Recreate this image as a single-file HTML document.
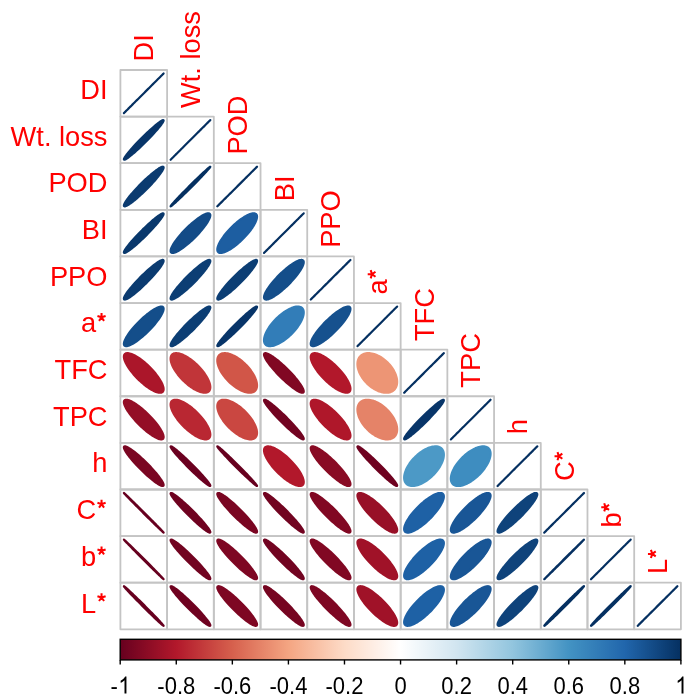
<!DOCTYPE html>
<html><head><meta charset="utf-8"><style>html,body{margin:0;padding:0;background:#fff;width:685px;height:700px;overflow:hidden;font-family:"Liberation Sans",sans-serif;}svg{display:block;filter:blur(0.55px);}</style></head><body>
<svg width="685" height="700" viewBox="0 0 685 700">
<rect width="685" height="700" fill="#FFFFFF"/>
<path d="M163.61,73.50 L163.56,73.54 L163.44,73.66 L163.24,73.86 L162.96,74.14 L162.59,74.50 L162.15,74.94 L161.64,75.46 L161.05,76.04 L160.39,76.70 L159.66,77.43 L158.87,78.22 L158.01,79.08 L157.10,79.99 L156.13,80.95 L155.11,81.97 L154.04,83.04 L152.94,84.14 L151.79,85.29 L150.61,86.46 L149.40,87.67 L148.17,88.90 L146.92,90.14 L145.66,91.40 L144.39,92.67 L143.12,93.94 L141.85,95.21 L140.59,96.47 L139.34,97.71 L138.11,98.94 L136.90,100.15 L135.72,101.32 L134.57,102.47 L133.46,103.57 L132.40,104.64 L131.38,105.66 L130.41,106.62 L129.49,107.53 L128.64,108.39 L127.85,109.18 L127.12,109.91 L126.46,110.57 L125.87,111.15 L125.35,111.67 L124.91,112.11 L124.55,112.47 L124.27,112.75 L124.07,112.95 L123.94,113.07 L123.90,113.11 L123.94,113.07 L124.07,112.95 L124.27,112.75 L124.55,112.47 L124.91,112.11 L125.35,111.67 L125.87,111.15 L126.46,110.57 L127.12,109.91 L127.85,109.18 L128.64,108.39 L129.49,107.53 L130.41,106.62 L131.38,105.66 L132.40,104.64 L133.46,103.57 L134.57,102.47 L135.72,101.32 L136.90,100.15 L138.11,98.94 L139.34,97.71 L140.59,96.47 L141.85,95.21 L143.12,93.94 L144.39,92.67 L145.66,91.40 L146.92,90.14 L148.17,88.90 L149.40,87.67 L150.61,86.46 L151.79,85.29 L152.94,84.14 L154.04,83.04 L155.11,81.97 L156.13,80.95 L157.10,79.99 L158.01,79.08 L158.87,78.22 L159.66,77.43 L160.39,76.70 L161.05,76.04 L161.64,75.46 L162.15,74.94 L162.59,74.50 L162.96,74.14 L163.24,73.86 L163.44,73.66 L163.56,73.54 L163.61,73.50 Z" fill="#053061" stroke="#053061" stroke-width="2.2" stroke-linejoin="round"/>
<path d="M163.51,120.21 L163.34,120.12 L163.09,120.11 L162.76,120.19 L162.36,120.35 L161.87,120.58 L161.32,120.90 L160.69,121.30 L159.99,121.77 L159.22,122.32 L158.40,122.93 L157.51,123.62 L156.56,124.38 L155.56,125.20 L154.52,126.08 L153.43,127.01 L152.30,128.00 L151.13,129.04 L149.93,130.13 L148.71,131.25 L147.47,132.41 L146.21,133.60 L144.95,134.81 L143.67,136.05 L142.40,137.30 L141.14,138.57 L139.88,139.84 L138.64,141.11 L137.42,142.37 L136.23,143.62 L135.07,144.86 L133.94,146.08 L132.86,147.28 L131.82,148.44 L130.83,149.57 L129.89,150.66 L129.01,151.70 L128.18,152.70 L127.43,153.64 L126.74,154.53 L126.12,155.35 L125.57,156.12 L125.10,156.81 L124.70,157.44 L124.38,158.00 L124.15,158.48 L123.99,158.88 L123.91,159.21 L123.92,159.46 L124.00,159.62 L124.17,159.71 L124.42,159.72 L124.75,159.64 L125.15,159.48 L125.63,159.25 L126.19,158.93 L126.82,158.53 L127.52,158.06 L128.28,157.51 L129.11,156.90 L130.00,156.21 L130.95,155.45 L131.94,154.63 L132.99,153.75 L134.08,152.82 L135.21,151.83 L136.38,150.79 L137.57,149.70 L138.80,148.58 L140.04,147.42 L141.29,146.23 L142.56,145.02 L143.83,143.78 L145.11,142.53 L146.37,141.26 L147.63,139.99 L148.87,138.72 L150.08,137.46 L151.28,136.21 L152.44,134.97 L153.56,133.75 L154.65,132.55 L155.69,131.39 L156.68,130.26 L157.62,129.17 L158.50,128.13 L159.32,127.13 L160.08,126.19 L160.77,125.30 L161.39,124.48 L161.94,123.71 L162.41,123.02 L162.81,122.39 L163.12,121.83 L163.36,121.35 L163.52,120.95 L163.60,120.62 L163.59,120.37 L163.51,120.21 Z" fill="#083569" stroke="#083569" stroke-width="2.2" stroke-linejoin="round"/>
<path d="M210.31,120.11 L210.27,120.15 L210.15,120.27 L209.95,120.47 L209.66,120.75 L209.30,121.11 L208.86,121.55 L208.35,122.07 L207.76,122.65 L207.10,123.31 L206.37,124.04 L205.58,124.83 L204.72,125.69 L203.81,126.60 L202.84,127.56 L201.82,128.58 L200.75,129.65 L199.64,130.75 L198.50,131.90 L197.32,133.07 L196.11,134.28 L194.88,135.51 L193.63,136.75 L192.37,138.01 L191.10,139.28 L189.83,140.55 L188.56,141.82 L187.29,143.08 L186.05,144.32 L184.81,145.55 L183.61,146.76 L182.43,147.93 L181.28,149.08 L180.17,150.18 L179.11,151.25 L178.09,152.27 L177.12,153.23 L176.20,154.14 L175.35,155.00 L174.55,155.79 L173.83,156.52 L173.17,157.18 L172.58,157.76 L172.06,158.28 L171.62,158.72 L171.26,159.08 L170.98,159.36 L170.77,159.56 L170.65,159.68 L170.61,159.72 L170.65,159.68 L170.77,159.56 L170.98,159.36 L171.26,159.08 L171.62,158.72 L172.06,158.28 L172.58,157.76 L173.17,157.18 L173.83,156.52 L174.55,155.79 L175.35,155.00 L176.20,154.14 L177.12,153.23 L178.09,152.27 L179.11,151.25 L180.17,150.18 L181.28,149.08 L182.43,147.93 L183.61,146.76 L184.81,145.55 L186.05,144.32 L187.29,143.08 L188.56,141.82 L189.83,140.55 L191.10,139.28 L192.37,138.01 L193.63,136.75 L194.88,135.51 L196.11,134.28 L197.32,133.07 L198.50,131.90 L199.64,130.75 L200.75,129.65 L201.82,128.58 L202.84,127.56 L203.81,126.60 L204.72,125.69 L205.58,124.83 L206.37,124.04 L207.10,123.31 L207.76,122.65 L208.35,122.07 L208.86,121.55 L209.30,121.11 L209.66,120.75 L209.95,120.47 L210.15,120.27 L210.27,120.15 L210.31,120.11 Z" fill="#053061" stroke="#053061" stroke-width="2.2" stroke-linejoin="round"/>
<path d="M163.41,166.91 L163.19,166.78 L162.89,166.72 L162.51,166.74 L162.05,166.85 L161.52,167.03 L160.92,167.30 L160.24,167.64 L159.50,168.06 L158.69,168.56 L157.82,169.13 L156.90,169.78 L155.92,170.49 L154.89,171.27 L153.81,172.11 L152.69,173.01 L151.54,173.96 L150.35,174.97 L149.14,176.03 L147.91,177.12 L146.65,178.26 L145.39,179.43 L144.12,180.63 L142.85,181.85 L141.58,183.10 L140.32,184.35 L139.07,185.62 L137.85,186.89 L136.64,188.16 L135.47,189.42 L134.33,190.67 L133.23,191.90 L132.18,193.11 L131.17,194.30 L130.21,195.45 L129.31,196.56 L128.46,197.64 L127.68,198.66 L126.97,199.64 L126.33,200.57 L125.75,201.43 L125.25,202.24 L124.83,202.98 L124.49,203.65 L124.22,204.25 L124.03,204.78 L123.93,205.24 L123.90,205.62 L123.96,205.92 L124.10,206.14 L124.32,206.27 L124.62,206.33 L125.00,206.31 L125.46,206.20 L125.99,206.02 L126.59,205.75 L127.27,205.41 L128.01,204.99 L128.82,204.49 L129.68,203.92 L130.61,203.27 L131.59,202.56 L132.62,201.78 L133.70,200.94 L134.81,200.04 L135.97,199.09 L137.15,198.08 L138.37,197.02 L139.60,195.93 L140.85,194.79 L142.12,193.62 L143.39,192.42 L144.66,191.20 L145.93,189.95 L147.19,188.70 L148.44,187.43 L149.66,186.16 L150.86,184.89 L152.04,183.63 L153.18,182.38 L154.28,181.15 L155.33,179.94 L156.34,178.75 L157.30,177.60 L158.20,176.49 L159.04,175.41 L159.82,174.39 L160.54,173.41 L161.18,172.48 L161.76,171.62 L162.25,170.81 L162.68,170.07 L163.02,169.40 L163.29,168.80 L163.48,168.27 L163.58,167.81 L163.60,167.43 L163.55,167.13 L163.41,166.91 Z" fill="#0B3B70" stroke="#0B3B70" stroke-width="2.2" stroke-linejoin="round"/>
<path d="M210.30,166.73 L210.21,166.72 L210.04,166.80 L209.79,166.95 L209.45,167.18 L209.05,167.50 L208.56,167.89 L208.00,168.36 L207.37,168.90 L206.67,169.52 L205.90,170.20 L205.07,170.96 L204.18,171.77 L203.23,172.65 L202.23,173.58 L201.18,174.57 L200.09,175.61 L198.96,176.69 L197.79,177.81 L196.59,178.97 L195.37,180.16 L194.13,181.37 L192.87,182.61 L191.60,183.86 L190.33,185.12 L189.06,186.39 L187.79,187.66 L186.54,188.93 L185.30,190.18 L184.08,191.42 L182.89,192.64 L181.73,193.84 L180.61,195.00 L179.52,196.13 L178.48,197.22 L177.49,198.27 L176.56,199.26 L175.68,200.21 L174.86,201.10 L174.11,201.93 L173.42,202.70 L172.80,203.40 L172.26,204.03 L171.79,204.58 L171.39,205.07 L171.08,205.48 L170.85,205.81 L170.69,206.06 L170.62,206.23 L170.63,206.32 L170.72,206.33 L170.89,206.25 L171.14,206.10 L171.47,205.87 L171.88,205.55 L172.36,205.16 L172.92,204.69 L173.56,204.15 L174.26,203.53 L175.03,202.85 L175.86,202.09 L176.75,201.28 L177.70,200.40 L178.70,199.47 L179.74,198.48 L180.84,197.44 L181.97,196.36 L183.14,195.24 L184.33,194.08 L185.56,192.89 L186.80,191.68 L188.06,190.44 L189.32,189.19 L190.60,187.93 L191.87,186.66 L193.13,185.39 L194.39,184.12 L195.63,182.87 L196.84,181.63 L198.03,180.41 L199.19,179.21 L200.32,178.05 L201.40,176.92 L202.44,175.83 L203.43,174.78 L204.37,173.79 L205.25,172.84 L206.07,171.95 L206.82,171.12 L207.51,170.35 L208.12,169.65 L208.67,169.02 L209.14,168.47 L209.53,167.98 L209.84,167.57 L210.08,167.24 L210.23,166.99 L210.31,166.82 L210.30,166.73 Z" fill="#053061" stroke="#053061" stroke-width="2.2" stroke-linejoin="round"/>
<path d="M257.02,166.72 L256.98,166.76 L256.86,166.88 L256.66,167.08 L256.37,167.36 L256.01,167.72 L255.57,168.16 L255.06,168.68 L254.47,169.26 L253.81,169.92 L253.08,170.65 L252.29,171.44 L251.43,172.30 L250.52,173.21 L249.55,174.17 L248.53,175.19 L247.46,176.26 L246.35,177.36 L245.21,178.51 L244.03,179.68 L242.82,180.89 L241.59,182.12 L240.34,183.36 L239.08,184.62 L237.81,185.89 L236.53,187.16 L235.26,188.43 L234.00,189.69 L232.75,190.93 L231.52,192.16 L230.31,193.37 L229.14,194.54 L227.99,195.69 L226.88,196.79 L225.81,197.86 L224.79,198.88 L223.82,199.84 L222.91,200.75 L222.06,201.61 L221.26,202.40 L220.53,203.13 L219.87,203.79 L219.29,204.37 L218.77,204.89 L218.33,205.33 L217.97,205.69 L217.69,205.97 L217.48,206.17 L217.36,206.29 L217.32,206.33 L217.36,206.29 L217.48,206.17 L217.69,205.97 L217.97,205.69 L218.33,205.33 L218.77,204.89 L219.29,204.37 L219.87,203.79 L220.53,203.13 L221.26,202.40 L222.06,201.61 L222.91,200.75 L223.82,199.84 L224.79,198.88 L225.81,197.86 L226.88,196.79 L227.99,195.69 L229.14,194.54 L230.31,193.37 L231.52,192.16 L232.75,190.93 L234.00,189.69 L235.26,188.43 L236.53,187.16 L237.81,185.89 L239.08,184.62 L240.34,183.36 L241.59,182.12 L242.82,180.89 L244.03,179.68 L245.21,178.51 L246.35,177.36 L247.46,176.26 L248.53,175.19 L249.55,174.17 L250.52,173.21 L251.43,172.30 L252.29,171.44 L253.08,170.65 L253.81,169.92 L254.47,169.26 L255.06,168.68 L255.57,168.16 L256.01,167.72 L256.37,167.36 L256.66,167.08 L256.86,166.88 L256.98,166.76 L257.02,166.72 Z" fill="#053061" stroke="#053061" stroke-width="2.2" stroke-linejoin="round"/>
<path d="M163.47,213.46 L163.27,213.36 L163.00,213.33 L162.65,213.38 L162.23,213.51 L161.72,213.73 L161.14,214.02 L160.49,214.40 L159.78,214.85 L158.99,215.37 L158.15,215.97 L157.24,216.64 L156.28,217.37 L155.27,218.18 L154.21,219.04 L153.11,219.96 L151.96,220.93 L150.79,221.96 L149.59,223.03 L148.36,224.14 L147.11,225.29 L145.85,226.47 L144.58,227.68 L143.31,228.91 L142.04,230.16 L140.77,231.42 L139.52,232.69 L138.29,233.96 L137.08,235.23 L135.89,236.48 L134.74,237.73 L133.63,238.95 L132.55,240.16 L131.53,241.33 L130.55,242.47 L129.63,243.57 L128.76,244.62 L127.96,245.63 L127.22,246.59 L126.55,247.50 L125.95,248.34 L125.43,249.12 L124.98,249.84 L124.60,250.49 L124.31,251.06 L124.09,251.57 L123.96,251.99 L123.90,252.34 L123.93,252.61 L124.04,252.81 L124.23,252.91 L124.50,252.94 L124.86,252.89 L125.28,252.76 L125.79,252.54 L126.36,252.25 L127.01,251.87 L127.73,251.42 L128.52,250.90 L129.36,250.30 L130.27,249.63 L131.23,248.90 L132.24,248.09 L133.30,247.23 L134.40,246.31 L135.54,245.34 L136.72,244.31 L137.92,243.24 L139.15,242.13 L140.40,240.98 L141.66,239.80 L142.93,238.59 L144.20,237.36 L145.47,236.11 L146.73,234.85 L147.98,233.58 L149.22,232.31 L150.43,231.04 L151.61,229.79 L152.77,228.54 L153.88,227.32 L154.95,226.11 L155.98,224.94 L156.96,223.80 L157.88,222.70 L158.75,221.65 L159.55,220.64 L160.29,219.68 L160.96,218.77 L161.56,217.93 L162.08,217.15 L162.53,216.43 L162.91,215.78 L163.20,215.21 L163.42,214.70 L163.55,214.28 L163.60,213.93 L163.58,213.66 L163.47,213.46 Z" fill="#09386C" stroke="#09386C" stroke-width="2.2" stroke-linejoin="round"/>
<path d="M209.81,213.83 L209.49,213.58 L209.08,213.42 L208.61,213.34 L208.05,213.34 L207.43,213.42 L206.73,213.58 L205.97,213.82 L205.14,214.14 L204.26,214.54 L203.31,215.01 L202.32,215.56 L201.27,216.18 L200.18,216.88 L199.06,217.63 L197.89,218.46 L196.70,219.34 L195.48,220.28 L194.24,221.27 L192.98,222.31 L191.71,223.40 L190.44,224.52 L189.17,225.68 L187.90,226.87 L186.65,228.09 L185.41,229.33 L184.19,230.58 L182.99,231.84 L181.83,233.11 L180.70,234.38 L179.61,235.65 L178.57,236.90 L177.58,238.14 L176.64,239.36 L175.75,240.55 L174.93,241.71 L174.17,242.84 L173.48,243.92 L172.85,244.97 L172.30,245.96 L171.83,246.90 L171.43,247.78 L171.10,248.61 L170.86,249.37 L170.70,250.06 L170.62,250.69 L170.62,251.24 L170.71,251.72 L170.87,252.12 L171.11,252.44 L171.44,252.69 L171.84,252.85 L172.32,252.93 L172.87,252.93 L173.50,252.85 L174.19,252.69 L174.96,252.45 L175.78,252.13 L176.67,251.73 L177.61,251.26 L178.61,250.71 L179.65,250.09 L180.74,249.39 L181.87,248.64 L183.03,247.81 L184.23,246.93 L185.45,245.99 L186.69,245.00 L187.95,243.96 L189.21,242.87 L190.48,241.75 L191.76,240.59 L193.02,239.40 L194.28,238.18 L195.52,236.94 L196.74,235.69 L197.93,234.43 L199.10,233.16 L200.22,231.89 L201.31,230.62 L202.35,229.37 L203.35,228.13 L204.29,226.91 L205.17,225.72 L206.00,224.56 L206.76,223.43 L207.45,222.35 L208.07,221.30 L208.62,220.31 L209.10,219.37 L209.50,218.49 L209.82,217.66 L210.06,216.90 L210.22,216.21 L210.30,215.58 L210.30,215.03 L210.22,214.55 L210.06,214.15 L209.81,213.83 Z" fill="#134B87" stroke="#134B87" stroke-width="2.2" stroke-linejoin="round"/>
<path d="M256.16,214.19 L255.75,213.86 L255.26,213.60 L254.70,213.43 L254.07,213.34 L253.37,213.33 L252.60,213.40 L251.77,213.56 L250.88,213.79 L249.93,214.10 L248.93,214.49 L247.88,214.96 L246.79,215.51 L245.65,216.12 L244.49,216.81 L243.29,217.56 L242.07,218.37 L240.82,219.25 L239.56,220.18 L238.30,221.17 L237.03,222.21 L235.75,223.29 L234.49,224.41 L233.23,225.57 L231.99,226.76 L230.78,227.97 L229.59,229.21 L228.43,230.46 L227.30,231.72 L226.22,232.99 L225.18,234.26 L224.19,235.52 L223.26,236.78 L222.38,238.02 L221.56,239.24 L220.81,240.43 L220.12,241.60 L219.50,242.73 L218.96,243.82 L218.49,244.87 L218.10,245.87 L217.79,246.81 L217.55,247.70 L217.40,248.53 L217.33,249.30 L217.34,250.00 L217.43,250.63 L217.60,251.19 L217.85,251.67 L218.18,252.08 L218.59,252.41 L219.08,252.67 L219.64,252.84 L220.27,252.93 L220.97,252.94 L221.74,252.87 L222.57,252.71 L223.47,252.48 L224.41,252.17 L225.41,251.78 L226.46,251.31 L227.56,250.76 L228.69,250.15 L229.86,249.46 L231.05,248.71 L232.28,247.90 L233.52,247.02 L234.78,246.09 L236.04,245.10 L237.32,244.06 L238.59,242.98 L239.85,241.86 L241.11,240.70 L242.35,239.51 L243.56,238.30 L244.75,237.06 L245.91,235.81 L247.04,234.55 L248.12,233.28 L249.16,232.01 L250.15,230.75 L251.09,229.49 L251.96,228.25 L252.78,227.03 L253.53,225.84 L254.22,224.67 L254.84,223.54 L255.38,222.45 L255.85,221.40 L256.24,220.40 L256.56,219.46 L256.79,218.57 L256.94,217.74 L257.02,216.97 L257.01,216.27 L256.92,215.64 L256.74,215.08 L256.49,214.60 L256.16,214.19 Z" fill="#1D5EA1" stroke="#1D5EA1" stroke-width="2.2" stroke-linejoin="round"/>
<path d="M303.73,213.33 L303.69,213.37 L303.57,213.49 L303.36,213.69 L303.08,213.97 L302.72,214.33 L302.28,214.77 L301.76,215.29 L301.18,215.87 L300.52,216.53 L299.79,217.26 L298.99,218.05 L298.14,218.91 L297.23,219.82 L296.26,220.78 L295.24,221.80 L294.17,222.87 L293.06,223.97 L291.91,225.12 L290.74,226.29 L289.53,227.50 L288.30,228.73 L287.05,229.97 L285.79,231.23 L284.52,232.50 L283.24,233.77 L281.97,235.04 L280.71,236.30 L279.46,237.54 L278.23,238.77 L277.02,239.98 L275.84,241.15 L274.70,242.30 L273.59,243.40 L272.52,244.47 L271.50,245.49 L270.53,246.45 L269.62,247.36 L268.76,248.22 L267.97,249.01 L267.24,249.74 L266.58,250.40 L265.99,250.98 L265.48,251.50 L265.04,251.94 L264.68,252.30 L264.39,252.58 L264.19,252.78 L264.07,252.90 L264.03,252.94 L264.07,252.90 L264.19,252.78 L264.39,252.58 L264.68,252.30 L265.04,251.94 L265.48,251.50 L265.99,250.98 L266.58,250.40 L267.24,249.74 L267.97,249.01 L268.76,248.22 L269.62,247.36 L270.53,246.45 L271.50,245.49 L272.52,244.47 L273.59,243.40 L274.70,242.30 L275.84,241.15 L277.02,239.98 L278.23,238.77 L279.46,237.54 L280.71,236.30 L281.97,235.04 L283.24,233.77 L284.52,232.50 L285.79,231.23 L287.05,229.97 L288.30,228.73 L289.53,227.50 L290.74,226.29 L291.91,225.12 L293.06,223.97 L294.17,222.87 L295.24,221.80 L296.26,220.78 L297.23,219.82 L298.14,218.91 L298.99,218.05 L299.79,217.26 L300.52,216.53 L301.18,215.87 L301.76,215.29 L302.28,214.77 L302.72,214.33 L303.08,213.97 L303.36,213.69 L303.57,213.49 L303.69,213.37 L303.73,213.33 Z" fill="#053061" stroke="#053061" stroke-width="2.2" stroke-linejoin="round"/>
<path d="M163.38,260.16 L163.15,260.01 L162.84,259.94 L162.45,259.95 L161.98,260.05 L161.44,260.22 L160.83,260.48 L160.15,260.81 L159.39,261.22 L158.58,261.71 L157.70,262.27 L156.77,262.91 L155.78,263.61 L154.74,264.38 L153.66,265.21 L152.54,266.10 L151.38,267.05 L150.19,268.05 L148.98,269.10 L147.74,270.19 L146.48,271.32 L145.22,272.49 L143.95,273.69 L142.67,274.91 L141.41,276.15 L140.15,277.40 L138.91,278.67 L137.68,279.94 L136.48,281.21 L135.32,282.47 L134.18,283.72 L133.09,284.96 L132.04,286.17 L131.03,287.36 L130.08,288.51 L129.19,289.63 L128.35,290.71 L127.58,291.75 L126.88,292.73 L126.24,293.66 L125.68,294.54 L125.19,295.35 L124.78,296.10 L124.44,296.78 L124.19,297.40 L124.01,297.94 L123.92,298.40 L123.91,298.79 L123.98,299.10 L124.13,299.33 L124.36,299.48 L124.67,299.55 L125.06,299.54 L125.52,299.44 L126.07,299.27 L126.68,299.01 L127.36,298.68 L128.11,298.27 L128.93,297.78 L129.81,297.22 L130.74,296.58 L131.73,295.88 L132.76,295.11 L133.85,294.28 L134.97,293.39 L136.13,292.44 L137.32,291.44 L138.53,290.39 L139.77,289.30 L141.02,288.17 L142.29,287.00 L143.56,285.80 L144.83,284.58 L146.10,283.34 L147.36,282.09 L148.60,280.82 L149.83,279.55 L151.02,278.28 L152.19,277.02 L153.33,275.77 L154.42,274.53 L155.47,273.32 L156.47,272.13 L157.42,270.98 L158.32,269.86 L159.15,268.78 L159.92,267.74 L160.63,266.76 L161.26,265.83 L161.83,264.95 L162.32,264.14 L162.73,263.39 L163.06,262.71 L163.32,262.09 L163.49,261.55 L163.59,261.09 L163.60,260.70 L163.53,260.39 L163.38,260.16 Z" fill="#0B3B70" stroke="#0B3B70" stroke-width="2.2" stroke-linejoin="round"/>
<path d="M210.04,260.21 L209.79,260.04 L209.46,259.95 L209.05,259.94 L208.56,260.02 L208.00,260.17 L207.37,260.40 L206.67,260.72 L205.90,261.11 L205.07,261.58 L204.18,262.12 L203.23,262.74 L202.23,263.43 L201.19,264.18 L200.09,265.00 L198.96,265.87 L197.80,266.81 L196.60,267.80 L195.38,268.83 L194.13,269.92 L192.88,271.04 L191.61,272.20 L190.34,273.38 L189.07,274.60 L187.80,275.84 L186.54,277.09 L185.31,278.35 L184.09,279.62 L182.90,280.89 L181.74,282.15 L180.61,283.41 L179.53,284.65 L178.49,285.87 L177.50,287.06 L176.56,288.23 L175.68,289.36 L174.86,290.45 L174.11,291.49 L173.42,292.49 L172.80,293.44 L172.26,294.32 L171.79,295.15 L171.40,295.92 L171.08,296.62 L170.85,297.25 L170.69,297.81 L170.62,298.29 L170.63,298.70 L170.72,299.03 L170.89,299.28 L171.14,299.45 L171.47,299.54 L171.88,299.55 L172.36,299.47 L172.92,299.32 L173.55,299.09 L174.25,298.77 L175.02,298.38 L175.85,297.91 L176.74,297.37 L177.69,296.75 L178.69,296.06 L179.74,295.31 L180.83,294.49 L181.96,293.62 L183.13,292.68 L184.33,291.69 L185.55,290.66 L186.79,289.57 L188.05,288.45 L189.32,287.29 L190.59,286.11 L191.86,284.89 L193.13,283.65 L194.38,282.40 L195.62,281.14 L196.84,279.87 L198.03,278.60 L199.19,277.34 L200.31,276.08 L201.40,274.84 L202.44,273.62 L203.43,272.43 L204.36,271.26 L205.24,270.13 L206.06,269.04 L206.82,268.00 L207.50,267.00 L208.12,266.05 L208.66,265.17 L209.14,264.34 L209.53,263.57 L209.84,262.87 L210.08,262.24 L210.23,261.68 L210.31,261.20 L210.30,260.79 L210.21,260.46 L210.04,260.21 Z" fill="#0C3E74" stroke="#0C3E74" stroke-width="2.2" stroke-linejoin="round"/>
<path d="M256.77,260.18 L256.53,260.02 L256.21,259.94 L255.81,259.95 L255.33,260.03 L254.78,260.19 L254.16,260.44 L253.47,260.76 L252.71,261.16 L251.89,261.64 L251.00,262.20 L250.06,262.82 L249.07,263.52 L248.03,264.28 L246.94,265.10 L245.81,265.99 L244.65,266.93 L243.45,267.92 L242.24,268.96 L240.99,270.05 L239.74,271.18 L238.47,272.34 L237.20,273.53 L235.93,274.75 L234.66,275.99 L233.41,277.24 L232.16,278.51 L230.94,279.77 L229.75,281.04 L228.58,282.31 L227.46,283.56 L226.37,284.80 L225.32,286.02 L224.33,287.21 L223.38,288.37 L222.50,289.49 L221.67,290.58 L220.91,291.62 L220.21,292.61 L219.58,293.55 L219.03,294.43 L218.55,295.25 L218.15,296.01 L217.82,296.70 L217.58,297.32 L217.41,297.87 L217.33,298.35 L217.33,298.74 L217.41,299.06 L217.57,299.31 L217.81,299.47 L218.13,299.55 L218.53,299.54 L219.01,299.46 L219.56,299.30 L220.18,299.05 L220.87,298.73 L221.63,298.33 L222.46,297.85 L223.34,297.29 L224.28,296.67 L225.27,295.97 L226.32,295.21 L227.40,294.39 L228.53,293.50 L229.69,292.56 L230.89,291.57 L232.11,290.53 L233.35,289.44 L234.60,288.31 L235.87,287.15 L237.14,285.96 L238.41,284.74 L239.68,283.50 L240.94,282.25 L242.18,280.98 L243.40,279.72 L244.59,278.45 L245.76,277.18 L246.89,275.93 L247.98,274.69 L249.02,273.47 L250.02,272.28 L250.96,271.12 L251.85,270.00 L252.67,268.91 L253.43,267.87 L254.13,266.88 L254.76,265.94 L255.31,265.06 L255.79,264.24 L256.19,263.48 L256.52,262.79 L256.76,262.17 L256.93,261.62 L257.01,261.14 L257.01,260.75 L256.93,260.43 L256.77,260.18 Z" fill="#0C3E74" stroke="#0C3E74" stroke-width="2.2" stroke-linejoin="round"/>
<path d="M303.15,260.51 L302.81,260.25 L302.38,260.06 L301.89,259.96 L301.31,259.94 L300.67,260.00 L299.96,260.14 L299.18,260.36 L298.34,260.66 L297.43,261.04 L296.48,261.49 L295.47,262.02 L294.41,262.63 L293.31,263.30 L292.17,264.04 L291.00,264.85 L289.80,265.71 L288.57,266.64 L287.33,267.62 L286.07,268.65 L284.80,269.72 L283.53,270.83 L282.26,271.99 L280.99,273.17 L279.74,274.38 L278.50,275.61 L277.29,276.86 L276.10,278.13 L274.95,279.39 L273.83,280.66 L272.76,281.93 L271.73,283.19 L270.74,284.43 L269.82,285.65 L268.95,286.85 L268.14,288.02 L267.40,289.16 L266.72,290.26 L266.12,291.31 L265.59,292.32 L265.13,293.27 L264.75,294.17 L264.45,295.01 L264.23,295.79 L264.09,296.50 L264.03,297.14 L264.05,297.71 L264.16,298.21 L264.34,298.63 L264.61,298.98 L264.95,299.24 L265.37,299.43 L265.87,299.53 L266.45,299.55 L267.09,299.49 L267.80,299.35 L268.58,299.13 L269.42,298.83 L270.32,298.45 L271.28,298.00 L272.29,297.47 L273.35,296.86 L274.45,296.19 L275.58,295.45 L276.76,294.64 L277.96,293.78 L279.19,292.85 L280.43,291.87 L281.69,290.84 L282.96,289.77 L284.23,288.66 L285.50,287.50 L286.77,286.32 L288.02,285.11 L289.25,283.88 L290.47,282.63 L291.65,281.36 L292.81,280.10 L293.93,278.83 L295.00,277.56 L296.03,276.30 L297.01,275.06 L297.94,273.84 L298.81,272.64 L299.62,271.47 L300.36,270.33 L301.03,269.23 L301.64,268.18 L302.17,267.17 L302.63,266.22 L303.01,265.32 L303.31,264.48 L303.53,263.70 L303.67,262.99 L303.73,262.35 L303.71,261.78 L303.60,261.28 L303.42,260.86 L303.15,260.51 Z" fill="#144E8A" stroke="#144E8A" stroke-width="2.2" stroke-linejoin="round"/>
<path d="M350.44,259.94 L350.40,259.98 L350.28,260.10 L350.07,260.30 L349.79,260.58 L349.43,260.94 L348.99,261.38 L348.47,261.90 L347.88,262.48 L347.22,263.14 L346.50,263.87 L345.70,264.66 L344.85,265.52 L343.93,266.43 L342.96,267.39 L341.94,268.41 L340.88,269.48 L339.77,270.58 L338.62,271.73 L337.44,272.90 L336.24,274.11 L335.00,275.34 L333.76,276.58 L332.49,277.84 L331.22,279.11 L329.95,280.38 L328.68,281.65 L327.42,282.91 L326.17,284.15 L324.94,285.38 L323.73,286.59 L322.55,287.76 L321.41,288.91 L320.30,290.01 L319.23,291.08 L318.21,292.10 L317.24,293.06 L316.33,293.97 L315.47,294.83 L314.68,295.62 L313.95,296.35 L313.29,297.01 L312.70,297.59 L312.19,298.11 L311.75,298.55 L311.39,298.91 L311.10,299.19 L310.90,299.39 L310.78,299.51 L310.74,299.55 L310.78,299.51 L310.90,299.39 L311.10,299.19 L311.39,298.91 L311.75,298.55 L312.19,298.11 L312.70,297.59 L313.29,297.01 L313.95,296.35 L314.68,295.62 L315.47,294.83 L316.33,293.97 L317.24,293.06 L318.21,292.10 L319.23,291.08 L320.30,290.01 L321.41,288.91 L322.55,287.76 L323.73,286.59 L324.94,285.38 L326.17,284.15 L327.42,282.91 L328.68,281.65 L329.95,280.38 L331.22,279.11 L332.49,277.84 L333.76,276.58 L335.00,275.34 L336.24,274.11 L337.44,272.90 L338.62,271.73 L339.77,270.58 L340.88,269.48 L341.94,268.41 L342.96,267.39 L343.93,266.43 L344.85,265.52 L345.70,264.66 L346.50,263.87 L347.22,263.14 L347.88,262.48 L348.47,261.90 L348.99,261.38 L349.43,260.94 L349.79,260.58 L350.07,260.30 L350.28,260.10 L350.40,259.98 L350.44,259.94 Z" fill="#053061" stroke="#053061" stroke-width="2.2" stroke-linejoin="round"/>
<path d="M163.03,307.12 L162.68,306.86 L162.26,306.67 L161.76,306.57 L161.19,306.55 L160.54,306.61 L159.83,306.75 L159.05,306.97 L158.21,307.27 L157.31,307.65 L156.35,308.10 L155.34,308.63 L154.29,309.24 L153.19,309.91 L152.05,310.65 L150.88,311.46 L149.67,312.32 L148.45,313.25 L147.20,314.23 L145.94,315.26 L144.67,316.33 L143.40,317.44 L142.13,318.60 L140.87,319.78 L139.61,320.99 L138.38,322.22 L137.17,323.47 L135.98,324.74 L134.83,326.00 L133.71,327.27 L132.63,328.54 L131.60,329.80 L130.62,331.04 L129.69,332.26 L128.82,333.46 L128.02,334.63 L127.27,335.77 L126.60,336.87 L125.99,337.92 L125.46,338.93 L125.01,339.88 L124.63,340.78 L124.33,341.62 L124.10,342.40 L123.96,343.11 L123.91,343.75 L123.93,344.32 L124.03,344.82 L124.22,345.24 L124.48,345.59 L124.83,345.85 L125.25,346.04 L125.75,346.14 L126.32,346.16 L126.96,346.10 L127.68,345.96 L128.46,345.74 L129.30,345.44 L130.20,345.06 L131.16,344.61 L132.17,344.08 L133.22,343.47 L134.32,342.80 L135.46,342.06 L136.63,341.25 L137.83,340.39 L139.06,339.46 L140.31,338.48 L141.57,337.45 L142.83,336.38 L144.11,335.27 L145.38,334.11 L146.64,332.93 L147.89,331.72 L149.13,330.49 L150.34,329.24 L151.53,327.97 L152.68,326.71 L153.80,325.44 L154.88,324.17 L155.91,322.91 L156.89,321.67 L157.82,320.45 L158.68,319.25 L159.49,318.08 L160.23,316.94 L160.91,315.84 L161.51,314.79 L162.05,313.78 L162.50,312.83 L162.88,311.93 L163.18,311.09 L163.40,310.31 L163.54,309.60 L163.60,308.96 L163.58,308.39 L163.48,307.89 L163.29,307.47 L163.03,307.12 Z" fill="#144E8A" stroke="#144E8A" stroke-width="2.2" stroke-linejoin="round"/>
<path d="M210.06,306.79 L209.82,306.63 L209.50,306.55 L209.10,306.56 L208.63,306.64 L208.08,306.80 L207.45,307.05 L206.76,307.37 L206.00,307.77 L205.18,308.25 L204.29,308.81 L203.35,309.43 L202.36,310.13 L201.32,310.89 L200.23,311.71 L199.10,312.60 L197.94,313.54 L196.75,314.53 L195.53,315.57 L194.29,316.66 L193.03,317.79 L191.76,318.95 L190.49,320.14 L189.22,321.36 L187.95,322.60 L186.70,323.85 L185.46,325.12 L184.24,326.38 L183.04,327.65 L181.88,328.92 L180.75,330.17 L179.66,331.41 L178.61,332.63 L177.62,333.82 L176.67,334.98 L175.79,336.10 L174.96,337.19 L174.20,338.23 L173.50,339.22 L172.88,340.16 L172.32,341.04 L171.84,341.86 L171.44,342.62 L171.12,343.31 L170.87,343.93 L170.71,344.48 L170.62,344.96 L170.62,345.35 L170.70,345.67 L170.86,345.92 L171.10,346.08 L171.42,346.16 L171.82,346.15 L172.30,346.07 L172.85,345.91 L173.47,345.66 L174.16,345.34 L174.92,344.94 L175.75,344.46 L176.63,343.90 L177.57,343.28 L178.57,342.58 L179.61,341.82 L180.70,341.00 L181.82,340.11 L182.99,339.17 L184.18,338.18 L185.40,337.14 L186.64,336.05 L187.89,334.92 L189.16,333.76 L190.43,332.57 L191.70,331.35 L192.97,330.11 L194.23,328.86 L195.47,327.59 L196.69,326.33 L197.88,325.06 L199.05,323.79 L200.18,322.54 L201.27,321.30 L202.31,320.08 L203.31,318.89 L204.25,317.73 L205.14,316.61 L205.96,315.52 L206.73,314.48 L207.42,313.49 L208.05,312.55 L208.60,311.67 L209.08,310.85 L209.48,310.09 L209.81,309.40 L210.05,308.78 L210.22,308.23 L210.30,307.75 L210.30,307.36 L210.22,307.04 L210.06,306.79 Z" fill="#0C3E74" stroke="#0C3E74" stroke-width="2.2" stroke-linejoin="round"/>
<path d="M256.92,306.65 L256.75,306.56 L256.51,306.55 L256.18,306.63 L255.77,306.79 L255.29,307.02 L254.73,307.34 L254.11,307.74 L253.41,308.21 L252.64,308.76 L251.81,309.37 L250.92,310.06 L249.98,310.82 L248.98,311.64 L247.93,312.52 L246.84,313.45 L245.71,314.44 L244.55,315.48 L243.35,316.57 L242.13,317.69 L240.89,318.85 L239.63,320.04 L238.36,321.25 L237.09,322.49 L235.82,323.74 L234.55,325.01 L233.30,326.28 L232.06,327.55 L230.84,328.81 L229.65,330.06 L228.49,331.30 L227.36,332.52 L226.27,333.72 L225.23,334.88 L224.24,336.01 L223.30,337.10 L222.42,338.14 L221.60,339.14 L220.84,340.08 L220.15,340.97 L219.53,341.79 L218.99,342.56 L218.51,343.25 L218.12,343.88 L217.80,344.44 L217.56,344.92 L217.40,345.32 L217.33,345.65 L217.33,345.90 L217.42,346.06 L217.59,346.15 L217.84,346.16 L218.16,346.08 L218.57,345.92 L219.05,345.69 L219.61,345.37 L220.24,344.97 L220.94,344.50 L221.70,343.95 L222.53,343.34 L223.42,342.65 L224.36,341.89 L225.36,341.07 L226.41,340.19 L227.50,339.26 L228.63,338.27 L229.79,337.23 L230.99,336.14 L232.21,335.02 L233.45,333.86 L234.71,332.67 L235.98,331.46 L237.25,330.22 L238.52,328.97 L239.79,327.70 L241.04,326.43 L242.28,325.16 L243.50,323.90 L244.69,322.65 L245.86,321.41 L246.98,320.19 L248.07,318.99 L249.11,317.83 L250.10,316.70 L251.04,315.61 L251.92,314.57 L252.74,313.57 L253.50,312.63 L254.19,311.74 L254.81,310.92 L255.35,310.15 L255.83,309.46 L256.22,308.83 L256.54,308.27 L256.78,307.79 L256.94,307.39 L257.01,307.06 L257.01,306.81 L256.92,306.65 Z" fill="#083569" stroke="#083569" stroke-width="2.2" stroke-linejoin="round"/>
<path d="M302.18,308.09 L301.65,307.64 L301.05,307.26 L300.37,306.96 L299.63,306.74 L298.83,306.60 L297.96,306.55 L297.03,306.57 L296.05,306.68 L295.02,306.86 L293.95,307.13 L292.83,307.48 L291.68,307.90 L290.49,308.40 L289.28,308.97 L288.04,309.61 L286.79,310.33 L285.53,311.11 L284.26,311.95 L282.98,312.85 L281.72,313.80 L280.46,314.81 L279.21,315.87 L277.98,316.96 L276.78,318.10 L275.61,319.27 L274.47,320.47 L273.37,321.70 L272.31,322.94 L271.30,324.20 L270.34,325.46 L269.44,326.73 L268.60,328.00 L267.82,329.26 L267.10,330.51 L266.46,331.74 L265.88,332.95 L265.38,334.14 L264.96,335.29 L264.61,336.40 L264.35,337.48 L264.16,338.50 L264.05,339.48 L264.03,340.40 L264.09,341.27 L264.23,342.07 L264.45,342.81 L264.74,343.49 L265.12,344.09 L265.58,344.62 L266.11,345.07 L266.71,345.45 L267.38,345.75 L268.13,345.97 L268.93,346.11 L269.80,346.16 L270.73,346.14 L271.71,346.03 L272.73,345.85 L273.81,345.58 L274.93,345.23 L276.08,344.81 L277.27,344.31 L278.48,343.74 L279.71,343.10 L280.97,342.38 L282.23,341.60 L283.50,340.76 L284.77,339.86 L286.04,338.91 L287.30,337.90 L288.55,336.84 L289.77,335.75 L290.98,334.61 L292.15,333.44 L293.29,332.24 L294.39,331.01 L295.45,329.77 L296.46,328.51 L297.42,327.25 L298.32,325.98 L299.16,324.71 L299.94,323.45 L300.66,322.20 L301.30,320.97 L301.87,319.76 L302.37,318.57 L302.80,317.42 L303.14,316.31 L303.41,315.23 L303.60,314.21 L303.70,313.23 L303.73,312.31 L303.67,311.44 L303.53,310.64 L303.31,309.90 L303.01,309.22 L302.64,308.62 L302.18,308.09 Z" fill="#327DB8" stroke="#327DB8" stroke-width="2.2" stroke-linejoin="round"/>
<path d="M349.83,307.15 L349.48,306.88 L349.05,306.69 L348.55,306.58 L347.97,306.55 L347.32,306.60 L346.60,306.73 L345.82,306.95 L344.97,307.24 L344.06,307.61 L343.10,308.06 L342.09,308.59 L341.03,309.18 L339.93,309.85 L338.79,310.59 L337.61,311.39 L336.41,312.25 L335.18,313.17 L333.93,314.14 L332.67,315.17 L331.40,316.24 L330.13,317.35 L328.86,318.50 L327.60,319.68 L326.34,320.89 L325.11,322.12 L323.90,323.37 L322.72,324.63 L321.56,325.90 L320.45,327.17 L319.38,328.43 L318.35,329.69 L317.37,330.94 L316.45,332.16 L315.59,333.36 L314.79,334.54 L314.05,335.68 L313.38,336.78 L312.78,337.83 L312.25,338.84 L311.80,339.80 L311.43,340.71 L311.14,341.55 L310.92,342.34 L310.79,343.05 L310.74,343.70 L310.77,344.28 L310.88,344.78 L311.07,345.21 L311.34,345.56 L311.69,345.83 L312.12,346.02 L312.63,346.13 L313.20,346.16 L313.85,346.11 L314.57,345.98 L315.36,345.76 L316.20,345.47 L317.11,345.10 L318.07,344.65 L319.08,344.12 L320.14,343.53 L321.25,342.86 L322.39,342.12 L323.56,341.32 L324.77,340.46 L326.00,339.54 L327.24,338.57 L328.50,337.54 L329.77,336.47 L331.05,335.36 L332.32,334.21 L333.58,333.03 L334.83,331.82 L336.06,330.59 L337.28,329.34 L338.46,328.08 L339.61,326.81 L340.73,325.54 L341.80,324.28 L342.82,323.02 L343.80,321.77 L344.72,320.55 L345.59,319.35 L346.39,318.17 L347.13,317.03 L347.80,315.93 L348.39,314.88 L348.92,313.87 L349.37,312.91 L349.74,312.00 L350.04,311.16 L350.25,310.37 L350.39,309.66 L350.44,309.01 L350.41,308.43 L350.30,307.93 L350.11,307.50 L349.83,307.15 Z" fill="#16518E" stroke="#16518E" stroke-width="2.2" stroke-linejoin="round"/>
<path d="M397.15,306.55 L397.11,306.59 L396.98,306.71 L396.78,306.91 L396.50,307.19 L396.14,307.55 L395.70,307.99 L395.18,308.51 L394.59,309.09 L393.93,309.75 L393.20,310.48 L392.41,311.27 L391.56,312.13 L390.64,313.04 L389.67,314.00 L388.65,315.02 L387.59,316.09 L386.48,317.19 L385.33,318.34 L384.15,319.51 L382.94,320.72 L381.71,321.95 L380.46,323.19 L379.20,324.45 L377.93,325.72 L376.66,326.99 L375.39,328.26 L374.13,329.52 L372.88,330.76 L371.65,331.99 L370.44,333.20 L369.26,334.37 L368.11,335.52 L367.01,336.62 L365.94,337.69 L364.92,338.71 L363.95,339.67 L363.04,340.58 L362.18,341.44 L361.39,342.23 L360.66,342.96 L360.00,343.62 L359.41,344.20 L358.90,344.72 L358.46,345.16 L358.09,345.52 L357.81,345.80 L357.61,346.00 L357.49,346.12 L357.44,346.16 L357.49,346.12 L357.61,346.00 L357.81,345.80 L358.09,345.52 L358.46,345.16 L358.90,344.72 L359.41,344.20 L360.00,343.62 L360.66,342.96 L361.39,342.23 L362.18,341.44 L363.04,340.58 L363.95,339.67 L364.92,338.71 L365.94,337.69 L367.01,336.62 L368.11,335.52 L369.26,334.37 L370.44,333.20 L371.65,331.99 L372.88,330.76 L374.13,329.52 L375.39,328.26 L376.66,326.99 L377.93,325.72 L379.20,324.45 L380.46,323.19 L381.71,321.95 L382.94,320.72 L384.15,319.51 L385.33,318.34 L386.48,317.19 L387.59,316.09 L388.65,315.02 L389.67,314.00 L390.64,313.04 L391.56,312.13 L392.41,311.27 L393.20,310.48 L393.93,309.75 L394.59,309.09 L395.18,308.51 L395.70,307.99 L396.14,307.55 L396.50,307.19 L396.78,306.91 L396.98,306.71 L397.11,306.59 L397.15,306.55 Z" fill="#053061" stroke="#053061" stroke-width="2.2" stroke-linejoin="round"/>
<path d="M149.71,367.02 L148.48,365.82 L147.24,364.65 L145.98,363.52 L144.71,362.42 L143.44,361.37 L142.17,360.37 L140.90,359.41 L139.65,358.51 L138.41,357.68 L137.20,356.90 L136.01,356.19 L134.86,355.55 L133.74,354.98 L132.66,354.49 L131.63,354.07 L130.65,353.72 L129.72,353.46 L128.85,353.28 L128.04,353.18 L127.29,353.16 L126.62,353.22 L126.01,353.36 L125.48,353.58 L125.02,353.89 L124.64,354.27 L124.33,354.73 L124.11,355.26 L123.97,355.86 L123.91,356.54 L123.93,357.28 L124.03,358.09 L124.21,358.96 L124.47,359.89 L124.82,360.87 L125.24,361.90 L125.73,362.97 L126.30,364.09 L126.94,365.24 L127.66,366.43 L128.43,367.64 L129.27,368.87 L130.17,370.12 L131.13,371.38 L132.14,372.65 L133.19,373.92 L134.29,375.19 L135.43,376.44 L136.60,377.68 L137.80,378.91 L139.02,380.11 L140.27,381.28 L141.53,382.41 L142.80,383.51 L144.07,384.56 L145.34,385.56 L146.60,386.52 L147.86,387.42 L149.09,388.25 L150.31,389.03 L151.49,389.74 L152.65,390.38 L153.77,390.95 L154.85,391.44 L155.88,391.86 L156.86,392.21 L157.79,392.47 L158.66,392.65 L159.47,392.75 L160.21,392.77 L160.89,392.71 L161.50,392.57 L162.03,392.35 L162.49,392.04 L162.87,391.66 L163.18,391.20 L163.40,390.67 L163.54,390.07 L163.60,389.39 L163.58,388.65 L163.48,387.84 L163.30,386.97 L163.03,386.04 L162.69,385.06 L162.27,384.03 L161.78,382.96 L161.21,381.84 L160.56,380.69 L159.85,379.50 L159.08,378.29 L158.24,377.06 L157.34,375.81 L156.38,374.55 L155.37,373.28 L154.32,372.01 L153.22,370.74 L152.08,369.49 L150.91,368.25 L149.71,367.02 Z" fill="#AB162A" stroke="#AB162A" stroke-width="2.2" stroke-linejoin="round"/>
<path d="M197.89,365.55 L196.70,364.39 L195.47,363.26 L194.23,362.18 L192.98,361.14 L191.71,360.14 L190.44,359.20 L189.17,358.32 L187.90,357.49 L186.64,356.73 L185.40,356.04 L184.18,355.41 L182.99,354.86 L181.83,354.38 L180.70,353.98 L179.61,353.66 L178.57,353.41 L177.58,353.25 L176.64,353.17 L175.75,353.17 L174.93,353.25 L174.17,353.41 L173.47,353.65 L172.85,353.97 L172.30,354.37 L171.82,354.84 L171.43,355.39 L171.10,356.01 L170.86,356.70 L170.70,357.46 L170.62,358.28 L170.62,359.17 L170.71,360.11 L170.87,361.10 L171.11,362.14 L171.44,363.22 L171.84,364.35 L172.32,365.51 L172.87,366.70 L173.50,367.92 L174.19,369.16 L174.96,370.41 L175.78,371.67 L176.67,372.94 L177.61,374.21 L178.61,375.47 L179.65,376.73 L180.74,377.97 L181.87,379.18 L183.03,380.38 L184.23,381.54 L185.45,382.67 L186.69,383.75 L187.95,384.79 L189.21,385.79 L190.49,386.73 L191.76,387.61 L193.02,388.44 L194.28,389.20 L195.52,389.89 L196.74,390.52 L197.93,391.07 L199.10,391.55 L200.22,391.95 L201.31,392.27 L202.35,392.52 L203.35,392.68 L204.29,392.76 L205.17,392.76 L206.00,392.68 L206.76,392.52 L207.45,392.28 L208.07,391.96 L208.62,391.56 L209.10,391.09 L209.50,390.54 L209.82,389.92 L210.06,389.23 L210.22,388.47 L210.30,387.65 L210.30,386.76 L210.22,385.82 L210.06,384.83 L209.81,383.79 L209.49,382.71 L209.08,381.58 L208.60,380.42 L208.05,379.23 L207.43,378.01 L206.73,376.77 L205.97,375.52 L205.14,374.26 L204.26,372.99 L203.31,371.72 L202.32,370.46 L201.27,369.20 L200.18,367.96 L199.05,366.75 L197.89,365.55 Z" fill="#C13539" stroke="#C13539" stroke-width="2.2" stroke-linejoin="round"/>
<path d="M245.71,364.44 L244.54,363.32 L243.35,362.23 L242.13,361.18 L240.88,360.19 L239.63,359.24 L238.36,358.36 L237.09,357.53 L235.82,356.77 L234.55,356.07 L233.29,355.44 L232.06,354.88 L230.84,354.40 L229.64,354.00 L228.48,353.67 L227.36,353.42 L226.27,353.26 L225.23,353.17 L224.24,353.16 L223.30,353.24 L222.42,353.40 L221.60,353.63 L220.84,353.95 L220.15,354.35 L219.53,354.82 L218.99,355.36 L218.51,355.98 L218.12,356.67 L217.80,357.43 L217.56,358.25 L217.40,359.12 L217.33,360.06 L217.33,361.05 L217.42,362.09 L217.59,363.17 L217.84,364.30 L218.16,365.45 L218.57,366.64 L219.05,367.86 L219.61,369.10 L220.24,370.35 L220.94,371.61 L221.70,372.88 L222.53,374.15 L223.42,375.42 L224.37,376.67 L225.36,377.91 L226.41,379.13 L227.50,380.32 L228.63,381.49 L229.80,382.61 L230.99,383.70 L232.22,384.75 L233.46,385.74 L234.71,386.69 L235.98,387.57 L237.25,388.40 L238.53,389.16 L239.79,389.86 L241.05,390.49 L242.29,391.05 L243.50,391.53 L244.70,391.93 L245.86,392.26 L246.98,392.51 L248.07,392.67 L249.11,392.76 L250.10,392.77 L251.04,392.69 L251.92,392.53 L252.74,392.30 L253.50,391.98 L254.19,391.58 L254.81,391.11 L255.36,390.57 L255.83,389.95 L256.22,389.26 L256.54,388.50 L256.78,387.68 L256.94,386.81 L257.01,385.87 L257.01,384.88 L256.92,383.84 L256.75,382.76 L256.51,381.63 L256.18,380.48 L255.77,379.29 L255.29,378.07 L254.73,376.83 L254.10,375.58 L253.40,374.32 L252.64,373.05 L251.81,371.78 L250.92,370.51 L249.98,369.26 L248.98,368.02 L247.93,366.80 L246.84,365.61 L245.71,364.44 Z" fill="#D15648" stroke="#D15648" stroke-width="2.2" stroke-linejoin="round"/>
<path d="M287.59,369.26 L286.34,368.02 L285.07,366.80 L283.80,365.61 L282.53,364.44 L281.26,363.32 L280.00,362.23 L278.76,361.18 L277.55,360.19 L276.35,359.24 L275.19,358.36 L274.07,357.53 L272.98,356.77 L271.94,356.07 L270.95,355.44 L270.01,354.88 L269.13,354.40 L268.31,354.00 L267.55,353.67 L266.86,353.42 L266.24,353.26 L265.69,353.17 L265.22,353.16 L264.83,353.24 L264.51,353.40 L264.27,353.63 L264.11,353.95 L264.04,354.35 L264.04,354.82 L264.13,355.36 L264.30,355.98 L264.54,356.67 L264.87,357.43 L265.28,358.25 L265.76,359.13 L266.32,360.06 L266.95,361.05 L267.65,362.09 L268.41,363.17 L269.24,364.30 L270.13,365.46 L271.07,366.64 L272.07,367.86 L273.12,369.10 L274.21,370.35 L275.34,371.61 L276.51,372.88 L277.70,374.15 L278.92,375.42 L280.17,376.67 L281.42,377.91 L282.69,379.13 L283.96,380.32 L285.23,381.49 L286.50,382.61 L287.75,383.70 L288.99,384.75 L290.21,385.74 L291.40,386.69 L292.57,387.57 L293.69,388.40 L294.78,389.16 L295.82,389.86 L296.81,390.49 L297.75,391.05 L298.63,391.53 L299.45,391.93 L300.21,392.26 L300.90,392.51 L301.52,392.67 L302.06,392.76 L302.54,392.77 L302.93,392.69 L303.25,392.53 L303.49,392.30 L303.65,391.98 L303.72,391.58 L303.72,391.11 L303.63,390.57 L303.46,389.95 L303.21,389.26 L302.89,388.50 L302.48,387.68 L302.00,386.80 L301.44,385.87 L300.81,384.88 L300.11,383.84 L299.35,382.76 L298.52,381.63 L297.63,380.47 L296.68,379.29 L295.69,378.07 L294.64,376.83 L293.55,375.58 L292.42,374.32 L291.25,373.05 L290.06,371.78 L288.83,370.51 L287.59,369.26 Z" fill="#810823" stroke="#810823" stroke-width="2.2" stroke-linejoin="round"/>
<path d="M336.86,366.70 L335.65,365.51 L334.41,364.35 L333.15,363.22 L331.88,362.14 L330.61,361.10 L329.34,360.11 L328.07,359.17 L326.82,358.28 L325.57,357.46 L324.35,356.70 L323.16,356.01 L322.00,355.39 L320.87,354.84 L319.78,354.37 L318.73,353.97 L317.74,353.65 L316.79,353.41 L315.91,353.25 L315.08,353.17 L314.32,353.17 L313.62,353.25 L313.00,353.41 L312.44,353.66 L311.97,353.98 L311.56,354.38 L311.24,354.86 L310.99,355.41 L310.83,356.04 L310.75,356.73 L310.75,357.49 L310.83,358.32 L310.99,359.20 L311.23,360.14 L311.55,361.14 L311.95,362.18 L312.43,363.26 L312.98,364.39 L313.60,365.55 L314.29,366.75 L315.05,367.96 L315.88,369.20 L316.76,370.46 L317.70,371.72 L318.70,372.99 L319.74,374.26 L320.83,375.52 L321.95,376.77 L323.12,378.01 L324.31,379.23 L325.53,380.42 L326.77,381.58 L328.03,382.71 L329.29,383.79 L330.56,384.83 L331.84,385.82 L333.10,386.76 L334.36,387.65 L335.60,388.47 L336.82,389.23 L338.02,389.92 L339.18,390.54 L340.31,391.09 L341.40,391.56 L342.44,391.96 L343.44,392.28 L344.38,392.52 L345.27,392.68 L346.09,392.76 L346.86,392.76 L347.55,392.68 L348.18,392.52 L348.73,392.27 L349.21,391.95 L349.61,391.55 L349.94,391.07 L350.18,390.52 L350.34,389.89 L350.43,389.20 L350.43,388.44 L350.35,387.61 L350.19,386.73 L349.95,385.79 L349.62,384.79 L349.23,383.75 L348.75,382.67 L348.20,381.54 L347.58,380.38 L346.88,379.18 L346.12,377.97 L345.30,376.73 L344.41,375.47 L343.47,374.21 L342.48,372.94 L341.44,371.67 L340.35,370.41 L339.22,369.16 L338.06,367.92 L336.86,366.70 Z" fill="#B2182B" stroke="#B2182B" stroke-width="2.2" stroke-linejoin="round"/>
<path d="M387.71,362.58 L386.60,361.52 L385.46,360.51 L384.28,359.54 L383.08,358.64 L381.85,357.79 L380.60,357.01 L379.34,356.29 L378.07,355.64 L376.80,355.06 L375.53,354.55 L374.27,354.12 L373.02,353.77 L371.78,353.49 L370.57,353.30 L369.39,353.19 L368.24,353.16 L367.13,353.21 L366.05,353.34 L365.03,353.55 L364.05,353.84 L363.13,354.21 L362.27,354.66 L361.47,355.18 L360.74,355.77 L360.07,356.44 L359.47,357.17 L358.95,357.97 L358.50,358.83 L358.13,359.75 L357.84,360.72 L357.63,361.75 L357.50,362.82 L357.45,363.93 L357.48,365.07 L357.59,366.25 L357.78,367.46 L358.06,368.69 L358.41,369.94 L358.84,371.20 L359.35,372.47 L359.93,373.74 L360.58,375.01 L361.30,376.26 L362.09,377.51 L362.94,378.73 L363.85,379.94 L364.81,381.11 L365.82,382.25 L366.89,383.35 L367.99,384.41 L369.13,385.42 L370.31,386.39 L371.51,387.29 L372.74,388.14 L373.99,388.92 L375.25,389.64 L376.52,390.29 L377.79,390.87 L379.06,391.38 L380.33,391.81 L381.58,392.16 L382.81,392.44 L384.02,392.63 L385.20,392.74 L386.35,392.77 L387.47,392.72 L388.54,392.59 L389.56,392.38 L390.54,392.09 L391.46,391.72 L392.32,391.27 L393.12,390.75 L393.86,390.16 L394.52,389.49 L395.12,388.76 L395.64,387.96 L396.09,387.10 L396.46,386.18 L396.75,385.21 L396.97,384.18 L397.10,383.11 L397.15,382.00 L397.11,380.86 L397.00,379.68 L396.81,378.47 L396.53,377.24 L396.18,375.99 L395.75,374.73 L395.24,373.46 L394.66,372.19 L394.01,370.92 L393.29,369.67 L392.50,368.42 L391.65,367.20 L390.74,365.99 L389.78,364.82 L388.77,363.68 L387.71,362.58 Z" fill="#ED9575" stroke="#ED9575" stroke-width="2.2" stroke-linejoin="round"/>
<path d="M443.86,353.16 L443.81,353.20 L443.69,353.32 L443.49,353.52 L443.21,353.80 L442.84,354.16 L442.40,354.60 L441.89,355.12 L441.30,355.70 L440.64,356.36 L439.91,357.09 L439.12,357.88 L438.26,358.74 L437.35,359.65 L436.38,360.61 L435.36,361.63 L434.29,362.70 L433.19,363.80 L432.04,364.95 L430.86,366.12 L429.65,367.33 L428.42,368.56 L427.17,369.80 L425.91,371.06 L424.64,372.33 L423.37,373.60 L422.10,374.87 L420.84,376.13 L419.59,377.37 L418.36,378.60 L417.15,379.81 L415.97,380.98 L414.82,382.13 L413.71,383.23 L412.65,384.30 L411.63,385.32 L410.66,386.28 L409.74,387.19 L408.89,388.05 L408.10,388.84 L407.37,389.57 L406.71,390.23 L406.12,390.81 L405.60,391.33 L405.16,391.77 L404.80,392.13 L404.52,392.41 L404.32,392.61 L404.19,392.73 L404.15,392.77 L404.19,392.73 L404.32,392.61 L404.52,392.41 L404.80,392.13 L405.16,391.77 L405.60,391.33 L406.12,390.81 L406.71,390.23 L407.37,389.57 L408.10,388.84 L408.89,388.05 L409.74,387.19 L410.66,386.28 L411.63,385.32 L412.65,384.30 L413.71,383.23 L414.82,382.13 L415.97,380.98 L417.15,379.81 L418.36,378.60 L419.59,377.37 L420.84,376.13 L422.10,374.87 L423.37,373.60 L424.64,372.33 L425.91,371.06 L427.17,369.80 L428.42,368.56 L429.65,367.33 L430.86,366.12 L432.04,364.95 L433.19,363.80 L434.29,362.70 L435.36,361.63 L436.38,360.61 L437.35,359.65 L438.26,358.74 L439.12,357.88 L439.91,357.09 L440.64,356.36 L441.30,355.70 L441.89,355.12 L442.40,354.60 L442.84,354.16 L443.21,353.80 L443.49,353.52 L443.69,353.32 L443.81,353.20 L443.86,353.16 Z" fill="#053061" stroke="#053061" stroke-width="2.2" stroke-linejoin="round"/>
<path d="M148.62,414.72 L147.37,413.50 L146.12,412.31 L144.85,411.14 L143.58,410.01 L142.30,408.92 L141.04,407.87 L139.78,406.87 L138.55,405.92 L137.33,405.03 L136.14,404.20 L134.98,403.43 L133.86,402.73 L132.78,402.10 L131.74,401.53 L130.75,401.05 L129.82,400.64 L128.94,400.30 L128.12,400.05 L127.37,399.88 L126.69,399.78 L126.07,399.77 L125.53,399.84 L125.06,399.99 L124.67,400.22 L124.36,400.53 L124.13,400.92 L123.98,401.39 L123.91,401.93 L123.92,402.54 L124.01,403.23 L124.19,403.98 L124.44,404.79 L124.78,405.67 L125.19,406.60 L125.68,407.58 L126.24,408.62 L126.87,409.70 L127.58,410.82 L128.35,411.98 L129.18,413.16 L130.07,414.38 L131.02,415.61 L132.02,416.87 L133.07,418.13 L134.17,419.40 L135.30,420.67 L136.47,421.93 L137.67,423.19 L138.89,424.43 L140.13,425.65 L141.39,426.84 L142.66,428.01 L143.93,429.14 L145.20,430.23 L146.47,431.28 L147.72,432.28 L148.96,433.23 L150.18,434.12 L151.37,434.95 L152.53,435.72 L153.65,436.42 L154.73,437.05 L155.77,437.62 L156.76,438.10 L157.69,438.51 L158.57,438.85 L159.38,439.10 L160.14,439.27 L160.82,439.37 L161.44,439.38 L161.98,439.31 L162.44,439.16 L162.83,438.93 L163.15,438.62 L163.38,438.23 L163.53,437.76 L163.60,437.22 L163.59,436.61 L163.50,435.92 L163.32,435.17 L163.07,434.36 L162.73,433.48 L162.32,432.55 L161.83,431.57 L161.27,430.53 L160.64,429.45 L159.93,428.33 L159.16,427.17 L158.33,425.99 L157.44,424.77 L156.49,423.54 L155.48,422.28 L154.43,421.02 L153.34,419.75 L152.21,418.48 L151.04,417.22 L149.84,415.96 L148.62,414.72 Z" fill="#940E26" stroke="#940E26" stroke-width="2.2" stroke-linejoin="round"/>
<path d="M197.34,412.71 L196.13,411.54 L194.90,410.39 L193.65,409.29 L192.39,408.22 L191.12,407.21 L189.85,406.24 L188.58,405.33 L187.32,404.48 L186.07,403.69 L184.84,402.96 L183.63,402.30 L182.45,401.72 L181.30,401.21 L180.19,400.77 L179.12,400.41 L178.10,400.13 L177.13,399.93 L176.22,399.81 L175.36,399.77 L174.57,399.81 L173.84,399.93 L173.18,400.14 L172.59,400.42 L172.07,400.78 L171.63,401.22 L171.27,401.74 L170.98,402.33 L170.78,402.99 L170.65,403.71 L170.61,404.51 L170.65,405.36 L170.77,406.27 L170.97,407.24 L171.26,408.26 L171.62,409.32 L172.05,410.43 L172.57,411.58 L173.16,412.75 L173.81,413.96 L174.54,415.19 L175.33,416.44 L176.19,417.69 L177.10,418.96 L178.07,420.23 L179.09,421.50 L180.15,422.76 L181.26,424.00 L182.41,425.23 L183.59,426.44 L184.79,427.61 L186.02,428.76 L187.27,429.86 L188.53,430.93 L189.80,431.94 L191.08,432.91 L192.35,433.82 L193.61,434.67 L194.86,435.46 L196.09,436.19 L197.30,436.85 L198.48,437.43 L199.62,437.94 L200.73,438.38 L201.80,438.74 L202.82,439.02 L203.79,439.22 L204.71,439.34 L205.56,439.38 L206.36,439.34 L207.09,439.22 L207.75,439.01 L208.34,438.73 L208.85,438.37 L209.30,437.93 L209.66,437.41 L209.94,436.82 L210.15,436.16 L210.27,435.44 L210.31,434.64 L210.27,433.79 L210.15,432.88 L209.95,431.91 L209.67,430.89 L209.31,429.83 L208.87,428.72 L208.36,427.57 L207.77,426.40 L207.11,425.19 L206.38,423.96 L205.59,422.71 L204.74,421.46 L203.82,420.19 L202.86,418.92 L201.84,417.65 L200.77,416.39 L199.66,415.15 L198.52,413.92 L197.34,412.71 Z" fill="#B92732" stroke="#B92732" stroke-width="2.2" stroke-linejoin="round"/>
<path d="M245.23,411.53 L244.06,410.39 L242.85,409.28 L241.62,408.22 L240.37,407.20 L239.11,406.23 L237.84,405.32 L236.57,404.47 L235.30,403.68 L234.03,402.96 L232.78,402.30 L231.55,401.71 L230.34,401.20 L229.16,400.77 L228.02,400.41 L226.91,400.13 L225.84,399.92 L224.82,399.80 L223.85,399.77 L222.93,399.81 L222.08,399.93 L221.28,400.14 L220.55,400.42 L219.89,400.78 L219.30,401.23 L218.78,401.74 L218.34,402.33 L217.98,402.99 L217.69,403.72 L217.49,404.51 L217.36,405.37 L217.32,406.28 L217.36,407.25 L217.48,408.27 L217.68,409.33 L217.96,410.44 L218.32,411.58 L218.76,412.76 L219.27,413.97 L219.86,415.20 L220.52,416.44 L221.24,417.70 L222.04,418.97 L222.89,420.24 L223.80,421.51 L224.77,422.77 L225.79,424.01 L226.85,425.24 L227.96,426.45 L229.11,427.62 L230.29,428.76 L231.49,429.87 L232.72,430.93 L233.97,431.95 L235.23,432.92 L236.50,433.83 L237.78,434.68 L239.05,435.47 L240.31,436.19 L241.56,436.85 L242.79,437.44 L244.00,437.95 L245.18,438.38 L246.33,438.74 L247.44,439.02 L248.50,439.23 L249.52,439.35 L250.49,439.38 L251.41,439.34 L252.27,439.22 L253.06,439.01 L253.79,438.73 L254.45,438.37 L255.04,437.92 L255.56,437.41 L256.00,436.82 L256.36,436.16 L256.65,435.43 L256.85,434.64 L256.98,433.78 L257.02,432.87 L256.98,431.90 L256.86,430.88 L256.66,429.82 L256.38,428.71 L256.02,427.57 L255.58,426.39 L255.07,425.18 L254.48,423.95 L253.82,422.71 L253.10,421.45 L252.31,420.18 L251.45,418.91 L250.54,417.64 L249.57,416.38 L248.55,415.14 L247.49,413.91 L246.38,412.70 L245.23,411.53 Z" fill="#CA4741" stroke="#CA4741" stroke-width="2.2" stroke-linejoin="round"/>
<path d="M286.31,417.15 L285.04,415.89 L283.77,414.65 L282.50,413.44 L281.23,412.24 L279.98,411.08 L278.74,409.95 L277.52,408.86 L276.33,407.81 L275.17,406.82 L274.04,405.87 L272.96,404.98 L271.92,404.15 L270.93,403.39 L269.99,402.69 L269.11,402.06 L268.29,401.51 L267.54,401.02 L266.85,400.62 L266.23,400.29 L265.68,400.04 L265.21,399.87 L264.82,399.78 L264.50,399.77 L264.27,399.85 L264.11,400.00 L264.04,400.24 L264.04,400.55 L264.13,400.95 L264.30,401.42 L264.55,401.96 L264.88,402.58 L265.29,403.27 L265.77,404.02 L266.33,404.84 L266.96,405.72 L267.66,406.65 L268.43,407.64 L269.26,408.68 L270.15,409.76 L271.09,410.88 L272.09,412.04 L273.14,413.23 L274.23,414.45 L275.36,415.68 L276.53,416.93 L277.73,418.20 L278.95,419.47 L280.19,420.74 L281.45,422.00 L282.72,423.26 L283.99,424.50 L285.26,425.71 L286.52,426.91 L287.78,428.07 L289.02,429.20 L290.24,430.29 L291.43,431.34 L292.59,432.33 L293.71,433.28 L294.80,434.17 L295.84,435.00 L296.83,435.76 L297.77,436.46 L298.65,437.09 L299.47,437.64 L300.22,438.13 L300.91,438.53 L301.53,438.86 L302.07,439.11 L302.55,439.28 L302.94,439.37 L303.26,439.38 L303.49,439.30 L303.65,439.15 L303.72,438.91 L303.72,438.60 L303.63,438.20 L303.46,437.73 L303.21,437.19 L302.88,436.57 L302.47,435.88 L301.99,435.13 L301.43,434.31 L300.80,433.43 L300.10,432.50 L299.33,431.51 L298.50,430.47 L297.61,429.39 L296.66,428.27 L295.67,427.11 L294.62,425.92 L293.53,424.70 L292.39,423.47 L291.23,422.22 L290.03,420.95 L288.81,419.68 L287.57,418.41 L286.31,417.15 Z" fill="#720421" stroke="#720421" stroke-width="2.2" stroke-linejoin="round"/>
<path d="M336.71,413.47 L335.48,412.27 L334.24,411.11 L332.98,409.98 L331.72,408.89 L330.44,407.84 L329.17,406.84 L327.91,405.90 L326.65,405.01 L325.41,404.18 L324.20,403.41 L323.00,402.71 L321.85,402.08 L320.72,401.52 L319.64,401.03 L318.60,400.63 L317.61,400.29 L316.67,400.04 L315.80,399.87 L314.98,399.78 L314.22,399.77 L313.54,399.84 L312.92,400.00 L312.38,400.23 L311.91,400.54 L311.52,400.94 L311.20,401.40 L310.97,401.95 L310.81,402.56 L310.74,403.25 L310.75,404.00 L310.84,404.81 L311.01,405.69 L311.27,406.63 L311.60,407.61 L312.01,408.65 L312.49,409.73 L313.05,410.85 L313.69,412.01 L314.39,413.20 L315.16,414.41 L315.99,415.65 L316.88,416.90 L317.83,418.16 L318.83,419.43 L319.88,420.70 L320.97,421.97 L322.10,423.22 L323.27,424.46 L324.47,425.68 L325.69,426.88 L326.93,428.04 L328.19,429.17 L329.46,430.26 L330.73,431.31 L332.00,432.31 L333.27,433.25 L334.52,434.14 L335.76,434.97 L336.98,435.74 L338.17,436.44 L339.33,437.07 L340.45,437.63 L341.54,438.12 L342.58,438.52 L343.56,438.86 L344.50,439.11 L345.38,439.28 L346.20,439.37 L346.95,439.38 L347.64,439.31 L348.25,439.15 L348.80,438.92 L349.27,438.61 L349.66,438.21 L349.97,437.75 L350.21,437.20 L350.36,436.59 L350.43,435.90 L350.42,435.15 L350.33,434.34 L350.16,433.46 L349.91,432.52 L349.58,431.54 L349.17,430.50 L348.68,429.42 L348.12,428.30 L347.49,427.14 L346.79,425.95 L346.02,424.74 L345.19,423.50 L344.29,422.25 L343.35,420.99 L342.34,419.72 L341.30,418.45 L340.20,417.18 L339.07,415.93 L337.90,414.69 L336.71,413.47 Z" fill="#AF172A" stroke="#AF172A" stroke-width="2.2" stroke-linejoin="round"/>
<path d="M387.22,409.67 L386.10,408.59 L384.94,407.56 L383.75,406.57 L382.54,405.64 L381.30,404.77 L380.04,403.96 L378.78,403.21 L377.51,402.53 L376.24,401.92 L374.97,401.38 L373.71,400.91 L372.47,400.53 L371.24,400.22 L370.04,399.99 L368.87,399.84 L367.74,399.77 L366.64,399.78 L365.59,399.88 L364.59,400.05 L363.64,400.31 L362.74,400.65 L361.91,401.06 L361.14,401.55 L360.43,402.11 L359.80,402.75 L359.23,403.45 L358.74,404.22 L358.33,405.05 L357.99,405.95 L357.73,406.90 L357.56,407.90 L357.46,408.95 L357.45,410.04 L357.52,411.17 L357.67,412.34 L357.90,413.53 L358.21,414.76 L358.59,416.00 L359.06,417.25 L359.60,418.52 L360.21,419.79 L360.89,421.06 L361.64,422.32 L362.46,423.57 L363.33,424.80 L364.27,426.02 L365.25,427.20 L366.29,428.36 L367.37,429.48 L368.49,430.56 L369.65,431.59 L370.84,432.58 L372.06,433.51 L373.29,434.38 L374.55,435.19 L375.81,435.94 L377.08,436.62 L378.36,437.23 L379.62,437.77 L380.88,438.24 L382.13,438.62 L383.35,438.93 L384.55,439.16 L385.72,439.31 L386.85,439.38 L387.95,439.37 L389.00,439.27 L390.00,439.10 L390.95,438.84 L391.85,438.50 L392.68,438.09 L393.45,437.60 L394.16,437.04 L394.80,436.40 L395.36,435.70 L395.85,434.93 L396.26,434.10 L396.60,433.20 L396.86,432.25 L397.03,431.25 L397.13,430.20 L397.14,429.11 L397.07,427.98 L396.93,426.81 L396.70,425.62 L396.39,424.39 L396.00,423.15 L395.53,421.90 L394.99,420.63 L394.38,419.36 L393.70,418.09 L392.95,416.83 L392.13,415.58 L391.26,414.35 L390.32,413.13 L389.34,411.95 L388.30,410.79 L387.22,409.67 Z" fill="#E58368" stroke="#E58368" stroke-width="2.2" stroke-linejoin="round"/>
<path d="M443.73,399.89 L443.55,399.79 L443.28,399.77 L442.94,399.83 L442.52,399.97 L442.03,400.19 L441.46,400.50 L440.81,400.88 L440.10,401.34 L439.33,401.87 L438.49,402.47 L437.59,403.15 L436.63,403.89 L435.62,404.70 L434.57,405.57 L433.47,406.50 L432.33,407.48 L431.16,408.51 L429.96,409.58 L428.73,410.70 L427.49,411.85 L426.23,413.04 L424.96,414.25 L423.69,415.48 L422.42,416.73 L421.15,417.99 L419.90,419.26 L418.66,420.53 L417.45,421.80 L416.26,423.05 L415.11,424.30 L413.99,425.52 L412.91,426.72 L411.88,427.89 L410.90,429.02 L409.97,430.12 L409.10,431.17 L408.29,432.17 L407.54,433.13 L406.87,434.03 L406.26,434.86 L405.73,435.64 L405.27,436.35 L404.89,436.99 L404.58,437.56 L404.36,438.05 L404.22,438.47 L404.16,438.82 L404.18,439.08 L404.28,439.26 L404.46,439.36 L404.72,439.38 L405.07,439.32 L405.49,439.18 L405.98,438.96 L406.55,438.65 L407.19,438.27 L407.91,437.81 L408.68,437.28 L409.52,436.68 L410.42,436.00 L411.38,435.26 L412.38,434.45 L413.44,433.58 L414.54,432.65 L415.68,431.67 L416.85,430.64 L418.05,429.57 L419.27,428.45 L420.52,427.30 L421.78,426.11 L423.05,424.90 L424.32,423.67 L425.59,422.42 L426.85,421.16 L428.11,419.89 L429.34,418.62 L430.56,417.35 L431.74,416.10 L432.90,414.85 L434.02,413.63 L435.10,412.43 L436.13,411.26 L437.11,410.13 L438.04,409.03 L438.91,407.98 L439.72,406.98 L440.46,406.02 L441.14,405.12 L441.75,404.29 L442.28,403.51 L442.74,402.80 L443.12,402.16 L443.43,401.59 L443.65,401.10 L443.79,400.68 L443.85,400.33 L443.83,400.07 L443.73,399.89 Z" fill="#083569" stroke="#083569" stroke-width="2.2" stroke-linejoin="round"/>
<path d="M490.56,399.77 L490.52,399.81 L490.40,399.93 L490.20,400.13 L489.91,400.41 L489.55,400.77 L489.11,401.21 L488.60,401.73 L488.01,402.31 L487.35,402.97 L486.62,403.70 L485.83,404.49 L484.97,405.35 L484.06,406.26 L483.09,407.22 L482.07,408.24 L481.00,409.31 L479.89,410.41 L478.75,411.56 L477.57,412.73 L476.36,413.94 L475.13,415.17 L473.88,416.41 L472.62,417.67 L471.35,418.94 L470.08,420.21 L468.81,421.48 L467.54,422.74 L466.30,423.98 L465.06,425.21 L463.86,426.42 L462.68,427.59 L461.53,428.74 L460.42,429.84 L459.36,430.91 L458.34,431.93 L457.37,432.89 L456.45,433.80 L455.60,434.66 L454.80,435.45 L454.08,436.18 L453.42,436.84 L452.83,437.42 L452.31,437.94 L451.87,438.38 L451.51,438.74 L451.23,439.02 L451.02,439.22 L450.90,439.34 L450.86,439.38 L450.90,439.34 L451.02,439.22 L451.23,439.02 L451.51,438.74 L451.87,438.38 L452.31,437.94 L452.83,437.42 L453.42,436.84 L454.08,436.18 L454.80,435.45 L455.60,434.66 L456.45,433.80 L457.37,432.89 L458.34,431.93 L459.36,430.91 L460.42,429.84 L461.53,428.74 L462.68,427.59 L463.86,426.42 L465.06,425.21 L466.30,423.98 L467.54,422.74 L468.81,421.48 L470.08,420.21 L471.35,418.94 L472.62,417.67 L473.88,416.41 L475.13,415.17 L476.36,413.94 L477.57,412.73 L478.75,411.56 L479.89,410.41 L481.00,409.31 L482.07,408.24 L483.09,407.22 L484.06,406.26 L484.97,405.35 L485.83,404.49 L486.62,403.70 L487.35,402.97 L488.01,402.31 L488.60,401.73 L489.11,401.21 L489.55,400.77 L489.91,400.41 L490.20,400.13 L490.40,399.93 L490.52,399.81 L490.56,399.77 Z" fill="#053061" stroke="#053061" stroke-width="2.2" stroke-linejoin="round"/>
<path d="M146.89,463.05 L145.63,461.81 L144.36,460.58 L143.09,459.37 L141.82,458.19 L140.56,457.05 L139.31,455.94 L138.08,454.88 L136.87,453.86 L135.69,452.89 L134.55,451.98 L133.44,451.12 L132.37,450.33 L131.35,449.60 L130.39,448.94 L129.47,448.35 L128.62,447.83 L127.83,447.39 L127.10,447.03 L126.44,446.75 L125.86,446.54 L125.34,446.42 L124.91,446.38 L124.54,446.41 L124.26,446.53 L124.06,446.74 L123.94,447.02 L123.90,447.38 L123.95,447.81 L124.07,448.32 L124.27,448.91 L124.56,449.57 L124.92,450.29 L125.37,451.08 L125.88,451.93 L126.47,452.85 L127.13,453.81 L127.86,454.83 L128.66,455.89 L129.51,457.00 L130.43,458.14 L131.40,459.32 L132.42,460.52 L133.49,461.75 L134.60,462.99 L135.75,464.25 L136.93,465.52 L138.13,466.79 L139.37,468.06 L140.62,469.32 L141.88,470.56 L143.15,471.79 L144.42,473.00 L145.69,474.18 L146.95,475.32 L148.20,476.43 L149.43,477.49 L150.64,478.51 L151.82,479.48 L152.96,480.39 L154.07,481.25 L155.14,482.04 L156.15,482.77 L157.12,483.43 L158.03,484.02 L158.89,484.54 L159.68,484.98 L160.41,485.34 L161.07,485.62 L161.65,485.83 L162.17,485.95 L162.60,485.99 L162.96,485.96 L163.24,485.84 L163.45,485.63 L163.57,485.35 L163.61,484.99 L163.56,484.56 L163.44,484.05 L163.23,483.46 L162.95,482.80 L162.58,482.08 L162.14,481.29 L161.63,480.44 L161.04,479.52 L160.37,478.56 L159.65,477.54 L158.85,476.48 L157.99,475.37 L157.08,474.23 L156.11,473.05 L155.09,471.85 L154.02,470.62 L152.91,469.38 L151.76,468.12 L150.58,466.85 L149.37,465.58 L148.14,464.31 L146.89,463.05 Z" fill="#7A0622" stroke="#7A0622" stroke-width="2.2" stroke-linejoin="round"/>
<path d="M192.18,464.47 L190.91,463.21 L189.64,461.96 L188.37,460.73 L187.11,459.52 L185.86,458.34 L184.63,457.19 L183.43,456.08 L182.26,455.01 L181.11,453.98 L180.01,453.01 L178.95,452.09 L177.94,451.22 L176.98,450.42 L176.07,449.69 L175.23,449.02 L174.44,448.42 L173.72,447.89 L173.07,447.44 L172.50,447.07 L171.99,446.78 L171.56,446.56 L171.21,446.43 L170.94,446.38 L170.75,446.41 L170.64,446.52 L170.61,446.71 L170.67,446.98 L170.80,447.33 L171.01,447.75 L171.31,448.26 L171.68,448.83 L172.13,449.48 L172.66,450.20 L173.26,450.98 L173.93,451.83 L174.67,452.73 L175.47,453.69 L176.33,454.70 L177.26,455.76 L178.23,456.86 L179.26,458.00 L180.33,459.17 L181.45,460.37 L182.60,461.59 L183.78,462.84 L184.99,464.10 L186.23,465.36 L187.48,466.63 L188.74,467.90 L190.01,469.16 L191.29,470.41 L192.56,471.64 L193.82,472.85 L195.06,474.03 L196.29,475.18 L197.49,476.29 L198.67,477.36 L199.81,478.39 L200.91,479.36 L201.97,480.28 L202.99,481.15 L203.95,481.95 L204.85,482.68 L205.70,483.35 L206.48,483.95 L207.20,484.48 L207.85,484.93 L208.43,485.30 L208.93,485.59 L209.36,485.81 L209.71,485.94 L209.98,485.99 L210.17,485.96 L210.28,485.85 L210.31,485.66 L210.26,485.39 L210.13,485.04 L209.91,484.62 L209.62,484.11 L209.24,483.54 L208.79,482.89 L208.27,482.17 L207.67,481.39 L207.00,480.54 L206.26,479.64 L205.46,478.68 L204.59,477.67 L203.67,476.61 L202.69,475.51 L201.67,474.37 L200.59,473.20 L199.48,472.00 L198.33,470.78 L197.14,469.53 L195.93,468.27 L194.70,467.01 L193.45,465.74 L192.18,464.47 Z" fill="#6B0120" stroke="#6B0120" stroke-width="2.2" stroke-linejoin="round"/>
<path d="M238.16,465.19 L236.89,463.93 L235.62,462.67 L234.36,461.43 L233.10,460.21 L231.87,459.01 L230.65,457.84 L229.46,456.71 L228.31,455.61 L227.19,454.56 L226.11,453.56 L225.07,452.61 L224.09,451.71 L223.16,450.87 L222.29,450.10 L221.48,449.39 L220.73,448.75 L220.05,448.19 L219.44,447.69 L218.91,447.28 L218.45,446.94 L218.06,446.68 L217.76,446.50 L217.53,446.40 L217.39,446.38 L217.32,446.44 L217.34,446.59 L217.44,446.81 L217.62,447.12 L217.88,447.50 L218.22,447.96 L218.64,448.49 L219.13,449.10 L219.70,449.78 L220.34,450.52 L221.05,451.33 L221.83,452.20 L222.67,453.13 L223.56,454.11 L224.52,455.15 L225.52,456.22 L226.58,457.34 L227.67,458.49 L228.81,459.68 L229.98,460.89 L231.18,462.12 L232.41,463.38 L233.65,464.64 L234.91,465.91 L236.18,467.18 L237.45,468.44 L238.72,469.70 L239.99,470.94 L241.24,472.16 L242.48,473.36 L243.69,474.53 L244.88,475.66 L246.04,476.76 L247.15,477.81 L248.23,478.81 L249.27,479.76 L250.25,480.66 L251.18,481.50 L252.05,482.27 L252.86,482.98 L253.61,483.62 L254.29,484.18 L254.90,484.68 L255.43,485.09 L255.90,485.43 L256.28,485.69 L256.58,485.87 L256.81,485.97 L256.96,485.99 L257.02,485.93 L257.00,485.78 L256.90,485.56 L256.72,485.25 L256.46,484.87 L256.12,484.41 L255.70,483.88 L255.21,483.27 L254.64,482.59 L254.00,481.85 L253.29,481.04 L252.52,480.17 L251.68,479.24 L250.78,478.26 L249.82,477.22 L248.82,476.15 L247.76,475.03 L246.67,473.88 L245.53,472.69 L244.36,471.48 L243.16,470.25 L241.94,468.99 L240.69,467.73 L239.43,466.46 L238.16,465.19 Z" fill="#67001F" stroke="#67001F" stroke-width="2.2" stroke-linejoin="round"/>
<path d="M290.16,459.92 L288.94,458.73 L287.70,457.57 L286.44,456.44 L285.17,455.36 L283.90,454.32 L282.63,453.33 L281.36,452.39 L280.11,451.50 L278.87,450.68 L277.65,449.92 L276.45,449.23 L275.29,448.61 L274.16,448.06 L273.07,447.59 L272.02,447.19 L271.03,446.87 L270.09,446.63 L269.20,446.47 L268.37,446.39 L267.61,446.39 L266.92,446.47 L266.29,446.63 L265.74,446.88 L265.26,447.20 L264.86,447.60 L264.53,448.08 L264.29,448.63 L264.12,449.26 L264.04,449.95 L264.04,450.71 L264.12,451.54 L264.28,452.42 L264.52,453.36 L264.84,454.36 L265.24,455.40 L265.72,456.48 L266.27,457.61 L266.89,458.77 L267.58,459.97 L268.34,461.18 L269.17,462.42 L270.05,463.68 L270.99,464.94 L271.99,466.21 L273.03,467.48 L274.12,468.74 L275.25,469.99 L276.41,471.23 L277.60,472.45 L278.82,473.64 L280.06,474.80 L281.32,475.93 L282.58,477.01 L283.86,478.05 L285.13,479.04 L286.39,479.98 L287.65,480.87 L288.89,481.69 L290.11,482.45 L291.31,483.14 L292.47,483.76 L293.60,484.31 L294.69,484.78 L295.73,485.18 L296.73,485.50 L297.67,485.74 L298.56,485.90 L299.38,485.98 L300.15,485.98 L300.84,485.90 L301.47,485.74 L302.02,485.49 L302.50,485.17 L302.90,484.77 L303.23,484.29 L303.47,483.74 L303.64,483.11 L303.72,482.42 L303.72,481.66 L303.64,480.83 L303.48,479.95 L303.24,479.01 L302.92,478.01 L302.52,476.97 L302.04,475.89 L301.49,474.76 L300.87,473.60 L300.17,472.40 L299.41,471.19 L298.59,469.95 L297.71,468.69 L296.77,467.43 L295.77,466.16 L294.73,464.89 L293.64,463.63 L292.51,462.38 L291.35,461.14 L290.16,459.92 Z" fill="#B2182B" stroke="#B2182B" stroke-width="2.2" stroke-linejoin="round"/>
<path d="M334.91,461.87 L333.66,460.64 L332.40,459.43 L331.13,458.25 L329.86,457.10 L328.59,456.00 L327.33,454.93 L326.08,453.91 L324.85,452.94 L323.64,452.02 L322.47,451.16 L321.32,450.37 L320.22,449.63 L319.15,448.97 L318.14,448.38 L317.17,447.86 L316.26,447.41 L315.41,447.05 L314.62,446.76 L313.90,446.55 L313.25,446.42 L312.66,446.38 L312.15,446.41 L311.72,446.53 L311.36,446.72 L311.08,447.00 L310.89,447.36 L310.77,447.79 L310.74,448.30 L310.78,448.88 L310.91,449.53 L311.12,450.25 L311.41,451.04 L311.78,451.89 L312.22,452.80 L312.74,453.76 L313.34,454.78 L314.00,455.84 L314.73,456.94 L315.53,458.08 L316.39,459.26 L317.31,460.46 L318.28,461.69 L319.31,462.93 L320.38,464.19 L321.49,465.46 L322.64,466.73 L323.82,467.99 L325.03,469.25 L326.26,470.50 L327.51,471.73 L328.77,472.94 L330.04,474.12 L331.32,475.27 L332.59,476.37 L333.85,477.44 L335.10,478.46 L336.32,479.43 L337.53,480.35 L338.71,481.21 L339.85,482.00 L340.96,482.74 L342.02,483.40 L343.04,483.99 L344.00,484.51 L344.91,484.96 L345.76,485.32 L346.55,485.61 L347.28,485.82 L347.93,485.95 L348.51,485.99 L349.02,485.96 L349.46,485.84 L349.81,485.65 L350.09,485.37 L350.29,485.01 L350.40,484.58 L350.44,484.07 L350.39,483.49 L350.26,482.84 L350.05,482.12 L349.77,481.33 L349.40,480.48 L348.95,479.57 L348.43,478.61 L347.84,477.59 L347.17,476.53 L346.44,475.43 L345.64,474.29 L344.78,473.11 L343.86,471.91 L342.89,470.68 L341.87,469.44 L340.80,468.18 L339.69,466.91 L338.54,465.64 L337.36,464.38 L336.15,463.12 L334.91,461.87 Z" fill="#890B24" stroke="#890B24" stroke-width="2.2" stroke-linejoin="round"/>
<path d="M379.28,464.20 L378.01,462.95 L376.74,461.70 L375.47,460.47 L374.21,459.27 L372.96,458.09 L371.72,456.95 L370.51,455.85 L369.33,454.79 L368.18,453.77 L367.07,452.81 L366.00,451.90 L364.98,451.05 L364.01,450.26 L363.09,449.54 L362.23,448.89 L361.43,448.30 L360.70,447.79 L360.04,447.36 L359.45,447.00 L358.93,446.73 L358.48,446.53 L358.11,446.41 L357.83,446.38 L357.62,446.42 L357.49,446.55 L357.44,446.76 L357.48,447.04 L357.60,447.41 L357.80,447.85 L358.07,448.37 L358.43,448.96 L358.87,449.63 L359.38,450.36 L359.96,451.15 L360.62,452.01 L361.34,452.93 L362.13,453.90 L362.98,454.92 L363.89,455.98 L364.86,457.09 L365.87,458.24 L366.94,459.42 L368.04,460.62 L369.19,461.85 L370.37,463.10 L371.57,464.36 L372.80,465.63 L374.05,466.90 L375.31,468.17 L376.58,469.42 L377.85,470.67 L379.12,471.90 L380.39,473.10 L381.64,474.28 L382.87,475.42 L384.08,476.52 L385.26,477.58 L386.41,478.60 L387.52,479.56 L388.59,480.47 L389.61,481.32 L390.58,482.11 L391.50,482.83 L392.36,483.48 L393.16,484.07 L393.89,484.58 L394.55,485.01 L395.15,485.37 L395.67,485.64 L396.11,485.84 L396.48,485.96 L396.77,485.99 L396.97,485.95 L397.10,485.82 L397.15,485.61 L397.11,485.33 L396.99,484.96 L396.80,484.52 L396.52,484.00 L396.16,483.41 L395.73,482.74 L395.22,482.01 L394.63,481.22 L393.98,480.36 L393.25,479.44 L392.46,478.47 L391.61,477.45 L390.70,476.39 L389.73,475.28 L388.72,474.13 L387.65,472.95 L386.55,471.75 L385.40,470.52 L384.23,469.27 L383.02,468.01 L381.79,466.74 L380.54,465.47 L379.28,464.20 Z" fill="#6F0220" stroke="#6F0220" stroke-width="2.2" stroke-linejoin="round"/>
<path d="M441.65,448.58 L441.03,448.03 L440.34,447.56 L439.58,447.17 L438.76,446.85 L437.88,446.61 L436.94,446.46 L435.95,446.38 L434.91,446.39 L433.83,446.48 L432.70,446.65 L431.54,446.89 L430.35,447.22 L429.13,447.63 L427.89,448.11 L426.64,448.67 L425.37,449.29 L424.10,449.99 L422.83,450.76 L421.56,451.59 L420.30,452.47 L419.06,453.42 L417.84,454.41 L416.64,455.46 L415.48,456.55 L414.35,457.68 L413.26,458.84 L412.21,460.03 L411.21,461.25 L410.26,462.49 L409.37,463.75 L408.54,465.01 L407.78,466.28 L407.08,467.55 L406.45,468.81 L405.89,470.07 L405.41,471.30 L405.00,472.52 L404.67,473.71 L404.42,474.87 L404.25,475.99 L404.17,477.07 L404.16,478.11 L404.24,479.10 L404.39,480.03 L404.63,480.91 L404.95,481.73 L405.34,482.49 L405.81,483.17 L406.36,483.79 L406.98,484.34 L407.67,484.81 L408.42,485.20 L409.24,485.52 L410.13,485.76 L411.06,485.91 L412.05,485.99 L413.09,485.98 L414.18,485.89 L415.30,485.72 L416.47,485.48 L417.66,485.15 L418.88,484.74 L420.12,484.26 L421.37,483.70 L422.64,483.08 L423.91,482.38 L425.18,481.61 L426.45,480.78 L427.70,479.90 L428.95,478.95 L430.17,477.96 L431.36,476.91 L432.53,475.82 L433.66,474.69 L434.75,473.53 L435.80,472.34 L436.80,471.12 L437.75,469.88 L438.63,468.62 L439.46,467.36 L440.23,466.09 L440.93,464.82 L441.56,463.56 L442.12,462.30 L442.60,461.07 L443.01,459.85 L443.34,458.66 L443.59,457.50 L443.75,456.38 L443.84,455.30 L443.85,454.26 L443.77,453.27 L443.62,452.34 L443.38,451.46 L443.06,450.64 L442.67,449.88 L442.19,449.20 L441.65,448.58 Z" fill="#4C99C6" stroke="#4C99C6" stroke-width="2.2" stroke-linejoin="round"/>
<path d="M488.63,448.30 L488.05,447.79 L487.39,447.36 L486.67,447.00 L485.88,446.73 L485.03,446.53 L484.12,446.41 L483.15,446.38 L482.14,446.42 L481.07,446.55 L479.97,446.76 L478.82,447.04 L477.65,447.41 L476.44,447.85 L475.21,448.37 L473.96,448.97 L472.70,449.63 L471.43,450.36 L470.16,451.16 L468.89,452.01 L467.63,452.93 L466.38,453.90 L465.14,454.92 L463.93,455.99 L462.75,457.10 L461.60,458.24 L460.49,459.42 L459.42,460.63 L458.40,461.86 L457.43,463.11 L456.51,464.37 L455.65,465.63 L454.85,466.90 L454.12,468.17 L453.46,469.43 L452.86,470.67 L452.34,471.90 L451.90,473.10 L451.53,474.28 L451.24,475.42 L451.04,476.52 L450.91,477.59 L450.86,478.60 L450.90,479.56 L451.01,480.47 L451.21,481.32 L451.49,482.11 L451.85,482.83 L452.28,483.49 L452.79,484.07 L453.38,484.58 L454.03,485.01 L454.75,485.37 L455.54,485.64 L456.39,485.84 L457.31,485.96 L458.27,485.99 L459.29,485.95 L460.35,485.82 L461.46,485.61 L462.60,485.33 L463.78,484.96 L464.98,484.52 L466.21,484.00 L467.46,483.40 L468.72,482.74 L469.99,482.01 L471.27,481.21 L472.54,480.36 L473.80,479.44 L475.05,478.47 L476.28,477.45 L477.49,476.38 L478.67,475.27 L479.82,474.13 L480.93,472.95 L482.00,471.74 L483.02,470.51 L484.00,469.26 L484.91,468.00 L485.77,466.74 L486.57,465.47 L487.30,464.20 L487.97,462.94 L488.56,461.70 L489.08,460.47 L489.53,459.27 L489.89,458.09 L490.18,456.95 L490.39,455.85 L490.52,454.78 L490.56,453.77 L490.53,452.81 L490.41,451.90 L490.21,451.05 L489.94,450.26 L489.58,449.54 L489.14,448.88 L488.63,448.30 Z" fill="#3E8DC0" stroke="#3E8DC0" stroke-width="2.2" stroke-linejoin="round"/>
<path d="M537.27,446.38 L537.23,446.42 L537.11,446.54 L536.91,446.74 L536.62,447.02 L536.26,447.38 L535.82,447.82 L535.31,448.34 L534.72,448.92 L534.06,449.58 L533.33,450.31 L532.54,451.10 L531.68,451.96 L530.77,452.87 L529.80,453.83 L528.78,454.85 L527.71,455.92 L526.60,457.02 L525.46,458.17 L524.28,459.34 L523.07,460.55 L521.84,461.78 L520.59,463.02 L519.33,464.28 L518.06,465.55 L516.78,466.82 L515.51,468.09 L514.25,469.35 L513.00,470.59 L511.77,471.82 L510.56,473.03 L509.39,474.20 L508.24,475.35 L507.13,476.45 L506.06,477.52 L505.04,478.54 L504.07,479.50 L503.16,480.41 L502.31,481.27 L501.51,482.06 L500.78,482.79 L500.12,483.45 L499.54,484.03 L499.02,484.55 L498.58,484.99 L498.22,485.35 L497.94,485.63 L497.73,485.83 L497.61,485.95 L497.57,485.99 L497.61,485.95 L497.73,485.83 L497.94,485.63 L498.22,485.35 L498.58,484.99 L499.02,484.55 L499.54,484.03 L500.12,483.45 L500.78,482.79 L501.51,482.06 L502.31,481.27 L503.16,480.41 L504.07,479.50 L505.04,478.54 L506.06,477.52 L507.13,476.45 L508.24,475.35 L509.39,474.20 L510.56,473.03 L511.77,471.82 L513.00,470.59 L514.25,469.35 L515.51,468.09 L516.78,466.82 L518.06,465.55 L519.33,464.28 L520.59,463.02 L521.84,461.78 L523.07,460.55 L524.28,459.34 L525.46,458.17 L526.60,457.02 L527.71,455.92 L528.78,454.85 L529.80,453.83 L530.77,452.87 L531.68,451.96 L532.54,451.10 L533.33,450.31 L534.06,449.58 L534.72,448.92 L535.31,448.34 L535.82,447.82 L536.26,447.38 L536.62,447.02 L536.91,446.74 L537.11,446.54 L537.23,446.42 L537.27,446.38 Z" fill="#053061" stroke="#053061" stroke-width="2.2" stroke-linejoin="round"/>
<path d="M144.07,512.48 L142.80,511.21 L141.53,509.95 L140.27,508.70 L139.02,507.47 L137.80,506.26 L136.60,505.07 L135.42,503.92 L134.29,502.80 L133.19,501.73 L132.13,500.70 L131.13,499.72 L130.17,498.79 L129.27,497.92 L128.43,497.11 L127.65,496.37 L126.94,495.70 L126.30,495.09 L125.73,494.56 L125.24,494.10 L124.82,493.72 L124.47,493.42 L124.21,493.19 L124.03,493.05 L123.93,492.99 L123.91,493.01 L123.97,493.11 L124.11,493.29 L124.33,493.55 L124.64,493.90 L125.02,494.32 L125.48,494.81 L126.01,495.38 L126.62,496.02 L127.30,496.73 L128.04,497.50 L128.85,498.34 L129.72,499.24 L130.65,500.19 L131.63,501.20 L132.66,502.25 L133.74,503.35 L134.86,504.48 L136.01,505.65 L137.20,506.85 L138.42,508.07 L139.65,509.32 L140.90,510.57 L142.17,511.84 L143.44,513.11 L144.71,514.38 L145.98,515.64 L147.24,516.89 L148.49,518.12 L149.71,519.33 L150.91,520.52 L152.08,521.67 L153.22,522.79 L154.32,523.86 L155.37,524.89 L156.38,525.87 L157.34,526.80 L158.24,527.67 L159.08,528.48 L159.85,529.22 L160.56,529.89 L161.21,530.50 L161.78,531.03 L162.27,531.49 L162.69,531.87 L163.04,532.17 L163.30,532.40 L163.48,532.54 L163.58,532.60 L163.60,532.58 L163.54,532.48 L163.40,532.30 L163.17,532.04 L162.87,531.69 L162.49,531.27 L162.03,530.78 L161.50,530.21 L160.89,529.57 L160.21,528.86 L159.47,528.09 L158.66,527.25 L157.79,526.35 L156.86,525.40 L155.88,524.39 L154.85,523.34 L153.77,522.24 L152.65,521.11 L151.49,519.94 L150.31,518.74 L149.09,517.52 L147.86,516.27 L146.60,515.02 L145.34,513.75 L144.07,512.48 Z" fill="#67001F" stroke="#67001F" stroke-width="2.2" stroke-linejoin="round"/>
<path d="M192.68,510.58 L191.41,509.32 L190.14,508.08 L188.87,506.86 L187.61,505.66 L186.35,504.49 L185.12,503.35 L183.90,502.26 L182.72,501.21 L181.56,500.20 L180.44,499.25 L179.37,498.35 L178.33,497.51 L177.35,496.73 L176.42,496.02 L175.55,495.38 L174.74,494.81 L174.00,494.32 L173.32,493.90 L172.72,493.56 L172.18,493.29 L171.72,493.11 L171.34,493.01 L171.04,492.99 L170.82,493.05 L170.67,493.19 L170.61,493.41 L170.63,493.72 L170.74,494.10 L170.92,494.55 L171.18,495.09 L171.53,495.69 L171.95,496.37 L172.44,497.11 L173.01,497.92 L173.66,498.79 L174.37,499.71 L175.14,500.69 L175.99,501.72 L176.89,502.80 L177.84,503.91 L178.85,505.06 L179.90,506.25 L181.00,507.46 L182.14,508.69 L183.31,509.94 L184.51,511.21 L185.74,512.47 L186.98,513.74 L188.24,515.01 L189.51,516.27 L190.78,517.51 L192.05,518.73 L193.32,519.93 L194.57,521.10 L195.81,522.24 L197.02,523.33 L198.21,524.38 L199.36,525.39 L200.48,526.34 L201.56,527.24 L202.59,528.08 L203.57,528.86 L204.50,529.57 L205.37,530.21 L206.18,530.78 L206.93,531.27 L207.60,531.69 L208.21,532.03 L208.74,532.30 L209.20,532.48 L209.58,532.58 L209.88,532.60 L210.11,532.54 L210.25,532.40 L210.31,532.18 L210.29,531.87 L210.19,531.49 L210.01,531.04 L209.74,530.50 L209.40,529.90 L208.98,529.22 L208.48,528.48 L207.91,527.67 L207.27,526.80 L206.56,525.88 L205.78,524.90 L204.94,523.87 L204.04,522.79 L203.08,521.68 L202.08,520.53 L201.02,519.34 L199.92,518.13 L198.78,516.90 L197.61,515.65 L196.41,514.38 L195.19,513.12 L193.94,511.85 L192.68,510.58 Z" fill="#6F0220" stroke="#6F0220" stroke-width="2.2" stroke-linejoin="round"/>
<path d="M240.31,509.66 L239.05,508.42 L237.78,507.19 L236.50,505.98 L235.23,504.80 L233.97,503.66 L232.72,502.55 L231.49,501.49 L230.29,500.47 L229.11,499.50 L227.96,498.59 L226.85,497.73 L225.79,496.94 L224.77,496.21 L223.80,495.55 L222.89,494.96 L222.04,494.44 L221.24,494.00 L220.52,493.64 L219.86,493.36 L219.27,493.15 L218.76,493.03 L218.32,492.99 L217.96,493.02 L217.68,493.14 L217.48,493.35 L217.36,493.63 L217.32,493.99 L217.36,494.42 L217.49,494.93 L217.69,495.52 L217.98,496.18 L218.34,496.90 L218.78,497.69 L219.30,498.54 L219.89,499.46 L220.55,500.42 L221.28,501.44 L222.07,502.50 L222.93,503.61 L223.85,504.75 L224.82,505.93 L225.84,507.13 L226.91,508.36 L228.02,509.60 L229.16,510.86 L230.34,512.13 L231.55,513.40 L232.78,514.67 L234.03,515.93 L235.29,517.17 L236.56,518.40 L237.84,519.61 L239.11,520.79 L240.37,521.93 L241.62,523.04 L242.85,524.10 L244.05,525.12 L245.23,526.09 L246.38,527.00 L247.49,527.86 L248.55,528.65 L249.57,529.38 L250.54,530.04 L251.45,530.63 L252.31,531.15 L253.10,531.59 L253.82,531.95 L254.48,532.23 L255.07,532.44 L255.58,532.56 L256.02,532.60 L256.38,532.57 L256.66,532.45 L256.86,532.24 L256.98,531.96 L257.02,531.60 L256.98,531.17 L256.86,530.66 L256.65,530.07 L256.37,529.41 L256.00,528.69 L255.56,527.90 L255.04,527.05 L254.45,526.13 L253.79,525.17 L253.06,524.15 L252.27,523.09 L251.41,521.98 L250.49,520.84 L249.52,519.66 L248.50,518.46 L247.44,517.23 L246.33,515.99 L245.18,514.73 L244.00,513.46 L242.79,512.19 L241.56,510.92 L240.31,509.66 Z" fill="#7A0622" stroke="#7A0622" stroke-width="2.2" stroke-linejoin="round"/>
<path d="M286.31,510.37 L285.04,509.11 L283.77,507.87 L282.50,506.66 L281.23,505.46 L279.98,504.30 L278.74,503.17 L277.52,502.08 L276.33,501.03 L275.17,500.04 L274.04,499.09 L272.96,498.20 L271.92,497.37 L270.93,496.61 L269.99,495.91 L269.11,495.28 L268.29,494.73 L267.54,494.24 L266.85,493.84 L266.23,493.51 L265.68,493.26 L265.21,493.09 L264.82,493.00 L264.50,492.99 L264.27,493.07 L264.11,493.22 L264.04,493.46 L264.04,493.77 L264.13,494.17 L264.30,494.64 L264.55,495.18 L264.88,495.80 L265.29,496.49 L265.77,497.24 L266.33,498.06 L266.96,498.94 L267.66,499.87 L268.43,500.86 L269.26,501.90 L270.15,502.98 L271.09,504.10 L272.09,505.26 L273.14,506.45 L274.23,507.67 L275.36,508.90 L276.53,510.15 L277.73,511.42 L278.95,512.69 L280.19,513.96 L281.45,515.22 L282.72,516.48 L283.99,517.72 L285.26,518.93 L286.52,520.13 L287.78,521.29 L289.02,522.42 L290.24,523.51 L291.43,524.56 L292.59,525.55 L293.71,526.50 L294.80,527.39 L295.84,528.22 L296.83,528.98 L297.77,529.68 L298.65,530.31 L299.47,530.86 L300.22,531.35 L300.91,531.75 L301.53,532.08 L302.07,532.33 L302.55,532.50 L302.94,532.59 L303.26,532.60 L303.49,532.52 L303.65,532.37 L303.72,532.13 L303.72,531.82 L303.63,531.42 L303.46,530.95 L303.21,530.41 L302.88,529.79 L302.47,529.10 L301.99,528.35 L301.43,527.53 L300.80,526.65 L300.10,525.72 L299.33,524.73 L298.50,523.69 L297.61,522.61 L296.66,521.49 L295.67,520.33 L294.62,519.14 L293.53,517.92 L292.39,516.69 L291.23,515.44 L290.03,514.17 L288.81,512.90 L287.57,511.63 L286.31,510.37 Z" fill="#720421" stroke="#720421" stroke-width="2.2" stroke-linejoin="round"/>
<path d="M334.30,509.09 L333.04,507.85 L331.78,506.63 L330.51,505.44 L329.23,504.27 L327.97,503.15 L326.71,502.06 L325.47,501.01 L324.25,500.02 L323.06,499.07 L321.90,498.19 L320.77,497.36 L319.69,496.60 L318.65,495.90 L317.66,495.27 L316.72,494.71 L315.84,494.23 L315.02,493.83 L314.26,493.50 L313.57,493.25 L312.95,493.09 L312.40,493.00 L311.93,492.99 L311.53,493.07 L311.22,493.23 L310.98,493.46 L310.82,493.78 L310.74,494.18 L310.75,494.65 L310.84,495.19 L311.00,495.81 L311.25,496.50 L311.58,497.26 L311.99,498.08 L312.47,498.96 L313.03,499.89 L313.65,500.88 L314.35,501.92 L315.12,503.00 L315.95,504.13 L316.84,505.29 L317.78,506.47 L318.78,507.69 L319.83,508.93 L320.92,510.18 L322.05,511.44 L323.21,512.71 L324.41,513.98 L325.63,515.25 L326.87,516.50 L328.13,517.74 L329.40,518.96 L330.67,520.15 L331.94,521.32 L333.21,522.44 L334.46,523.53 L335.70,524.58 L336.92,525.57 L338.11,526.52 L339.27,527.40 L340.40,528.23 L341.49,528.99 L342.53,529.69 L343.52,530.32 L344.46,530.88 L345.34,531.36 L346.16,531.76 L346.92,532.09 L347.61,532.34 L348.23,532.50 L348.77,532.59 L349.25,532.60 L349.64,532.52 L349.96,532.36 L350.20,532.13 L350.35,531.81 L350.43,531.41 L350.43,530.94 L350.34,530.40 L350.17,529.78 L349.92,529.09 L349.59,528.33 L349.19,527.51 L348.71,526.63 L348.15,525.70 L347.52,524.71 L346.82,523.67 L346.06,522.59 L345.23,521.46 L344.34,520.30 L343.39,519.12 L342.39,517.90 L341.35,516.66 L340.26,515.41 L339.13,514.15 L337.96,512.88 L336.76,511.61 L335.54,510.34 L334.30,509.09 Z" fill="#810823" stroke="#810823" stroke-width="2.2" stroke-linejoin="round"/>
<path d="M382.36,507.74 L381.12,506.53 L379.86,505.34 L378.59,504.18 L377.32,503.05 L376.05,501.97 L374.78,500.93 L373.53,499.93 L372.29,498.99 L371.07,498.11 L369.87,497.29 L368.71,496.53 L367.58,495.84 L366.49,495.22 L365.44,494.67 L364.45,494.20 L363.50,493.80 L362.62,493.48 L361.79,493.24 L361.03,493.07 L360.33,493.00 L359.71,493.00 L359.15,493.08 L358.68,493.24 L358.27,493.49 L357.95,493.81 L357.70,494.21 L357.54,494.69 L357.46,495.24 L357.45,495.87 L357.53,496.56 L357.70,497.32 L357.94,498.15 L358.26,499.03 L358.66,499.97 L359.13,500.97 L359.68,502.01 L360.31,503.10 L361.00,504.22 L361.76,505.39 L362.58,506.58 L363.47,507.80 L364.41,509.03 L365.40,510.29 L366.44,511.55 L367.53,512.82 L368.66,514.09 L369.82,515.35 L371.02,516.61 L372.23,517.85 L373.48,519.06 L374.73,520.25 L376.00,521.41 L377.27,522.54 L378.54,523.62 L379.81,524.66 L381.06,525.66 L382.31,526.60 L383.53,527.48 L384.72,528.30 L385.88,529.06 L387.01,529.75 L388.10,530.37 L389.15,530.92 L390.14,531.39 L391.09,531.79 L391.97,532.11 L392.80,532.35 L393.56,532.52 L394.26,532.59 L394.88,532.59 L395.44,532.51 L395.92,532.35 L396.32,532.10 L396.64,531.78 L396.89,531.38 L397.05,530.90 L397.14,530.35 L397.14,529.72 L397.06,529.03 L396.90,528.27 L396.66,527.44 L396.33,526.56 L395.93,525.62 L395.46,524.62 L394.91,523.58 L394.29,522.49 L393.59,521.37 L392.83,520.20 L392.01,519.01 L391.12,517.79 L390.18,516.56 L389.19,515.30 L388.15,514.04 L387.06,512.77 L385.93,511.50 L384.77,510.24 L383.58,508.98 L382.36,507.74 Z" fill="#981027" stroke="#981027" stroke-width="2.2" stroke-linejoin="round"/>
<path d="M442.94,493.90 L442.52,493.56 L442.02,493.29 L441.45,493.11 L440.81,493.01 L440.10,492.99 L439.32,493.05 L438.48,493.19 L437.58,493.41 L436.63,493.72 L435.62,494.10 L434.56,494.55 L433.46,495.09 L432.33,495.69 L431.15,496.37 L429.95,497.11 L428.73,497.92 L427.48,498.79 L426.22,499.71 L424.96,500.69 L423.68,501.72 L422.41,502.80 L421.15,503.91 L419.89,505.07 L418.66,506.25 L417.44,507.46 L416.26,508.69 L415.10,509.94 L413.98,511.21 L412.91,512.47 L411.88,513.74 L410.89,515.01 L409.97,516.27 L409.09,517.51 L408.29,518.73 L407.54,519.93 L406.86,521.10 L406.26,522.24 L405.72,523.33 L405.27,524.38 L404.88,525.39 L404.58,526.34 L404.36,527.24 L404.22,528.08 L404.16,528.86 L404.18,529.57 L404.28,530.21 L404.46,530.78 L404.72,531.27 L405.07,531.69 L405.49,532.03 L405.98,532.30 L406.56,532.48 L407.20,532.58 L407.91,532.60 L408.69,532.54 L409.53,532.40 L410.43,532.18 L411.38,531.87 L412.39,531.49 L413.45,531.04 L414.54,530.50 L415.68,529.90 L416.85,529.22 L418.05,528.48 L419.28,527.67 L420.53,526.80 L421.78,525.88 L423.05,524.90 L424.33,523.87 L425.60,522.79 L426.86,521.68 L428.11,520.52 L429.35,519.34 L430.56,518.13 L431.75,516.90 L432.91,515.65 L434.02,514.38 L435.10,513.12 L436.13,511.85 L437.12,510.58 L438.04,509.32 L438.91,508.08 L439.72,506.86 L440.47,505.66 L441.14,504.49 L441.75,503.35 L442.28,502.26 L442.74,501.21 L443.12,500.20 L443.43,499.25 L443.65,498.35 L443.79,497.51 L443.85,496.73 L443.83,496.02 L443.73,495.38 L443.55,494.81 L443.28,494.32 L442.94,493.90 Z" fill="#1E61A5" stroke="#1E61A5" stroke-width="2.2" stroke-linejoin="round"/>
<path d="M489.86,493.69 L489.48,493.40 L489.03,493.18 L488.50,493.04 L487.90,492.99 L487.23,493.01 L486.49,493.12 L485.68,493.31 L484.82,493.58 L483.89,493.93 L482.91,494.35 L481.88,494.85 L480.81,495.43 L479.69,496.07 L478.54,496.79 L477.36,497.57 L476.15,498.41 L474.91,499.31 L473.66,500.27 L472.40,501.28 L471.12,502.34 L469.85,503.43 L468.58,504.57 L467.32,505.74 L466.08,506.94 L464.85,508.17 L463.65,509.41 L462.47,510.67 L461.33,511.94 L460.23,513.21 L459.17,514.47 L458.16,515.74 L457.20,516.98 L456.30,518.22 L455.45,519.43 L454.67,520.61 L453.95,521.76 L453.31,522.87 L452.73,523.94 L452.23,524.97 L451.80,525.95 L451.45,526.87 L451.19,527.73 L451.00,528.54 L450.89,529.27 L450.86,529.94 L450.92,530.54 L451.05,531.07 L451.27,531.52 L451.57,531.90 L451.94,532.19 L452.40,532.41 L452.93,532.55 L453.53,532.60 L454.20,532.58 L454.94,532.47 L455.74,532.28 L456.61,532.01 L457.53,531.66 L458.51,531.24 L459.54,530.74 L460.61,530.16 L461.73,529.52 L462.88,528.80 L464.07,528.02 L465.28,527.18 L466.51,526.28 L467.77,525.32 L469.03,524.31 L470.30,523.25 L471.57,522.16 L472.84,521.02 L474.10,519.85 L475.35,518.65 L476.58,517.42 L477.78,516.18 L478.95,514.92 L480.09,513.65 L481.19,512.38 L482.25,511.12 L483.26,509.85 L484.22,508.61 L485.13,507.37 L485.97,506.16 L486.75,504.98 L487.47,503.83 L488.12,502.72 L488.69,501.65 L489.20,500.62 L489.62,499.64 L489.97,498.72 L490.24,497.86 L490.43,497.05 L490.54,496.32 L490.56,495.65 L490.51,495.05 L490.37,494.52 L490.15,494.07 L489.86,493.69 Z" fill="#195696" stroke="#195696" stroke-width="2.2" stroke-linejoin="round"/>
<path d="M536.92,493.34 L536.64,493.14 L536.29,493.02 L535.85,492.99 L535.34,493.03 L534.76,493.16 L534.10,493.37 L533.38,493.65 L532.59,494.02 L531.74,494.46 L530.83,494.98 L529.86,495.58 L528.85,496.24 L527.78,496.97 L526.68,497.76 L525.53,498.62 L524.35,499.54 L523.15,500.51 L521.92,501.53 L520.67,502.60 L519.41,503.71 L518.14,504.85 L516.87,506.03 L515.60,507.24 L514.33,508.47 L513.08,509.71 L511.85,510.97 L510.64,512.24 L509.46,513.51 L508.31,514.78 L507.20,516.04 L506.13,517.28 L505.11,518.51 L504.14,519.71 L503.22,520.89 L502.36,522.03 L501.56,523.13 L500.83,524.20 L500.16,525.21 L499.57,526.17 L499.05,527.08 L498.61,527.93 L498.24,528.72 L497.95,529.44 L497.74,530.10 L497.62,530.68 L497.57,531.19 L497.61,531.62 L497.72,531.98 L497.92,532.25 L498.20,532.45 L498.56,532.57 L498.99,532.60 L499.50,532.56 L500.08,532.43 L500.74,532.22 L501.46,531.94 L502.25,531.57 L503.10,531.13 L504.01,530.61 L504.98,530.01 L506.00,529.35 L507.06,528.62 L508.17,527.83 L509.31,526.97 L510.49,526.05 L511.69,525.08 L512.92,524.06 L514.17,522.99 L515.43,521.88 L516.70,520.74 L517.97,519.56 L519.24,518.35 L520.51,517.12 L521.76,515.88 L522.99,514.62 L524.20,513.35 L525.38,512.08 L526.53,510.81 L527.64,509.55 L528.71,508.31 L529.73,507.08 L530.71,505.88 L531.62,504.70 L532.48,503.56 L533.28,502.46 L534.01,501.39 L534.68,500.38 L535.27,499.42 L535.79,498.51 L536.23,497.66 L536.60,496.87 L536.89,496.15 L537.10,495.49 L537.23,494.91 L537.27,494.40 L537.24,493.97 L537.12,493.61 L536.92,493.34 Z" fill="#0F437B" stroke="#0F437B" stroke-width="2.2" stroke-linejoin="round"/>
<path d="M583.98,492.99 L583.94,493.03 L583.82,493.15 L583.61,493.35 L583.33,493.63 L582.97,493.99 L582.53,494.43 L582.01,494.95 L581.43,495.53 L580.77,496.19 L580.04,496.92 L579.24,497.71 L578.39,498.57 L577.48,499.48 L576.51,500.44 L575.49,501.46 L574.42,502.53 L573.31,503.63 L572.16,504.78 L570.99,505.95 L569.78,507.16 L568.55,508.39 L567.30,509.63 L566.04,510.89 L564.77,512.16 L563.49,513.43 L562.22,514.70 L560.96,515.96 L559.71,517.20 L558.48,518.43 L557.27,519.64 L556.09,520.81 L554.95,521.96 L553.84,523.06 L552.77,524.13 L551.75,525.15 L550.78,526.11 L549.87,527.02 L549.01,527.88 L548.22,528.67 L547.49,529.40 L546.83,530.06 L546.24,530.64 L545.73,531.16 L545.29,531.60 L544.93,531.96 L544.64,532.24 L544.44,532.44 L544.32,532.56 L544.28,532.60 L544.32,532.56 L544.44,532.44 L544.64,532.24 L544.93,531.96 L545.29,531.60 L545.73,531.16 L546.24,530.64 L546.83,530.06 L547.49,529.40 L548.22,528.67 L549.01,527.88 L549.87,527.02 L550.78,526.11 L551.75,525.15 L552.77,524.13 L553.84,523.06 L554.95,521.96 L556.09,520.81 L557.27,519.64 L558.48,518.43 L559.71,517.20 L560.96,515.96 L562.22,514.70 L563.49,513.43 L564.77,512.16 L566.04,510.89 L567.30,509.63 L568.55,508.39 L569.78,507.16 L570.99,505.95 L572.16,504.78 L573.31,503.63 L574.42,502.53 L575.49,501.46 L576.51,500.44 L577.48,499.48 L578.39,498.57 L579.24,497.71 L580.04,496.92 L580.77,496.19 L581.43,495.53 L582.01,494.95 L582.53,494.43 L582.97,493.99 L583.33,493.63 L583.61,493.35 L583.82,493.15 L583.94,493.03 L583.98,492.99 Z" fill="#053061" stroke="#053061" stroke-width="2.2" stroke-linejoin="round"/>
<path d="M144.07,559.09 L142.80,557.82 L141.53,556.56 L140.27,555.31 L139.02,554.08 L137.80,552.87 L136.60,551.68 L135.42,550.53 L134.29,549.41 L133.19,548.34 L132.13,547.31 L131.13,546.33 L130.17,545.40 L129.27,544.53 L128.43,543.72 L127.65,542.98 L126.94,542.31 L126.30,541.70 L125.73,541.17 L125.24,540.71 L124.82,540.33 L124.47,540.03 L124.21,539.80 L124.03,539.66 L123.93,539.60 L123.91,539.62 L123.97,539.72 L124.11,539.90 L124.33,540.16 L124.64,540.51 L125.02,540.93 L125.48,541.42 L126.01,541.99 L126.62,542.63 L127.30,543.34 L128.04,544.11 L128.85,544.95 L129.72,545.85 L130.65,546.80 L131.63,547.81 L132.66,548.86 L133.74,549.96 L134.86,551.09 L136.01,552.26 L137.20,553.46 L138.42,554.68 L139.65,555.93 L140.90,557.18 L142.17,558.45 L143.44,559.72 L144.71,560.99 L145.98,562.25 L147.24,563.50 L148.49,564.73 L149.71,565.94 L150.91,567.13 L152.08,568.28 L153.22,569.40 L154.32,570.47 L155.37,571.50 L156.38,572.48 L157.34,573.41 L158.24,574.28 L159.08,575.09 L159.85,575.83 L160.56,576.50 L161.21,577.11 L161.78,577.64 L162.27,578.10 L162.69,578.48 L163.04,578.78 L163.30,579.01 L163.48,579.15 L163.58,579.21 L163.60,579.19 L163.54,579.09 L163.40,578.91 L163.17,578.65 L162.87,578.30 L162.49,577.88 L162.03,577.39 L161.50,576.82 L160.89,576.18 L160.21,575.47 L159.47,574.70 L158.66,573.86 L157.79,572.96 L156.86,572.01 L155.88,571.00 L154.85,569.95 L153.77,568.85 L152.65,567.72 L151.49,566.55 L150.31,565.35 L149.09,564.13 L147.86,562.88 L146.60,561.63 L145.34,560.36 L144.07,559.09 Z" fill="#67001F" stroke="#67001F" stroke-width="2.2" stroke-linejoin="round"/>
<path d="M192.89,556.98 L191.63,555.72 L190.35,554.48 L189.08,553.27 L187.82,552.07 L186.56,550.91 L185.32,549.78 L184.10,548.69 L182.91,547.64 L181.75,546.65 L180.63,545.70 L179.54,544.81 L178.50,543.98 L177.51,543.22 L176.58,542.52 L175.69,541.89 L174.88,541.34 L174.12,540.85 L173.43,540.45 L172.81,540.12 L172.27,539.87 L171.80,539.70 L171.40,539.61 L171.09,539.60 L170.85,539.68 L170.69,539.83 L170.62,540.07 L170.63,540.38 L170.71,540.78 L170.88,541.25 L171.13,541.79 L171.46,542.41 L171.87,543.10 L172.35,543.85 L172.91,544.67 L173.54,545.55 L174.24,546.48 L175.01,547.47 L175.84,548.51 L176.73,549.59 L177.68,550.71 L178.68,551.87 L179.72,553.06 L180.82,554.28 L181.95,555.51 L183.11,556.76 L184.31,558.03 L185.53,559.30 L186.77,560.57 L188.03,561.83 L189.30,563.09 L190.57,564.33 L191.84,565.54 L193.11,566.74 L194.36,567.90 L195.60,569.03 L196.82,570.12 L198.01,571.17 L199.17,572.16 L200.30,573.11 L201.38,574.00 L202.42,574.83 L203.41,575.59 L204.35,576.29 L205.23,576.92 L206.05,577.47 L206.81,577.96 L207.49,578.36 L208.11,578.69 L208.66,578.94 L209.13,579.11 L209.52,579.20 L209.84,579.21 L210.08,579.13 L210.23,578.98 L210.31,578.74 L210.30,578.43 L210.21,578.03 L210.04,577.56 L209.79,577.02 L209.46,576.40 L209.05,575.71 L208.57,574.96 L208.01,574.14 L207.38,573.26 L206.68,572.33 L205.92,571.34 L205.08,570.30 L204.19,569.22 L203.25,568.10 L202.25,566.94 L201.20,565.75 L200.11,564.53 L198.98,563.30 L197.81,562.05 L196.62,560.78 L195.39,559.51 L194.15,558.24 L192.89,556.98 Z" fill="#720421" stroke="#720421" stroke-width="2.2" stroke-linejoin="round"/>
<path d="M240.61,555.97 L239.35,554.73 L238.08,553.51 L236.81,552.31 L235.54,551.14 L234.27,550.00 L233.02,548.90 L231.79,547.85 L230.57,546.84 L229.39,545.89 L228.23,544.99 L227.12,544.15 L226.04,543.37 L225.01,542.66 L224.03,542.01 L223.10,541.44 L222.23,540.94 L221.43,540.52 L220.68,540.18 L220.01,539.91 L219.41,539.73 L218.88,539.62 L218.42,539.60 L218.04,539.66 L217.74,539.80 L217.52,540.02 L217.38,540.31 L217.32,540.69 L217.34,541.15 L217.45,541.68 L217.64,542.28 L217.90,542.95 L218.25,543.69 L218.67,544.50 L219.17,545.37 L219.74,546.29 L220.39,547.27 L221.10,548.30 L221.88,549.37 L222.72,550.49 L223.62,551.64 L224.58,552.82 L225.59,554.03 L226.65,555.26 L227.75,556.51 L228.89,557.78 L230.06,559.04 L231.26,560.31 L232.49,561.58 L233.73,562.84 L234.99,564.08 L236.26,565.30 L237.53,566.50 L238.80,567.67 L240.07,568.81 L241.32,569.91 L242.56,570.96 L243.77,571.97 L244.95,572.92 L246.11,573.82 L247.23,574.66 L248.30,575.44 L249.33,576.15 L250.31,576.80 L251.24,577.37 L252.11,577.87 L252.91,578.29 L253.66,578.63 L254.33,578.90 L254.94,579.08 L255.47,579.19 L255.92,579.21 L256.30,579.15 L256.60,579.01 L256.82,578.79 L256.96,578.50 L257.02,578.12 L257.00,577.66 L256.89,577.13 L256.71,576.53 L256.44,575.86 L256.10,575.12 L255.67,574.31 L255.17,573.44 L254.60,572.52 L253.96,571.54 L253.24,570.51 L252.46,569.44 L251.62,568.32 L250.72,567.17 L249.76,565.99 L248.75,564.78 L247.69,563.55 L246.59,562.30 L245.46,561.03 L244.28,559.77 L243.08,558.50 L241.85,557.23 L240.61,555.97 Z" fill="#7E0723" stroke="#7E0723" stroke-width="2.2" stroke-linejoin="round"/>
<path d="M286.51,556.78 L285.24,555.53 L283.97,554.30 L282.70,553.08 L281.43,551.89 L280.17,550.73 L278.93,549.61 L277.71,548.52 L276.51,547.49 L275.35,546.50 L274.21,545.56 L273.12,544.68 L272.08,543.86 L271.08,543.11 L270.13,542.42 L269.24,541.80 L268.41,541.26 L267.65,540.78 L266.95,540.39 L266.32,540.07 L265.76,539.84 L265.28,539.68 L264.87,539.60 L264.55,539.61 L264.30,539.70 L264.13,539.86 L264.04,540.11 L264.04,540.44 L264.11,540.85 L264.27,541.33 L264.51,541.88 L264.82,542.51 L265.22,543.21 L265.69,543.97 L266.24,544.80 L266.86,545.69 L267.55,546.63 L268.30,547.63 L269.12,548.67 L270.01,549.76 L270.94,550.89 L271.94,552.05 L272.98,553.25 L274.06,554.47 L275.19,555.70 L276.35,556.96 L277.54,558.22 L278.76,559.49 L280.00,560.76 L281.25,562.03 L282.52,563.28 L283.79,564.51 L285.06,565.73 L286.33,566.92 L287.59,568.08 L288.83,569.20 L290.05,570.29 L291.25,571.32 L292.41,572.31 L293.54,573.25 L294.63,574.13 L295.68,574.95 L296.68,575.70 L297.63,576.39 L298.51,577.01 L299.34,577.55 L300.11,578.03 L300.81,578.42 L301.44,578.74 L302.00,578.97 L302.48,579.13 L302.88,579.21 L303.21,579.20 L303.46,579.11 L303.63,578.95 L303.72,578.70 L303.72,578.37 L303.65,577.96 L303.49,577.48 L303.25,576.93 L302.93,576.30 L302.54,575.60 L302.07,574.84 L301.52,574.01 L300.90,573.12 L300.21,572.18 L299.45,571.18 L298.63,570.14 L297.75,569.05 L296.81,567.92 L295.82,566.76 L294.78,565.56 L293.70,564.34 L292.57,563.11 L291.41,561.85 L290.22,560.59 L289.00,559.32 L287.76,558.05 L286.51,556.78 Z" fill="#720421" stroke="#720421" stroke-width="2.2" stroke-linejoin="round"/>
<path d="M334.43,555.57 L333.18,554.33 L331.91,553.12 L330.64,551.92 L329.37,550.76 L328.10,549.64 L326.84,548.56 L325.60,547.52 L324.38,546.53 L323.18,545.59 L322.02,544.71 L320.89,543.89 L319.80,543.13 L318.75,542.44 L317.76,541.82 L316.81,541.27 L315.93,540.80 L315.10,540.40 L314.34,540.08 L313.64,539.84 L313.01,539.68 L312.46,539.60 L311.98,539.61 L311.57,539.69 L311.25,539.86 L311.00,540.10 L310.83,540.43 L310.75,540.83 L310.75,541.31 L310.82,541.87 L310.98,542.49 L311.22,543.19 L311.54,543.95 L311.94,544.77 L312.42,545.66 L312.96,546.60 L313.59,547.60 L314.28,548.64 L315.04,549.73 L315.86,550.86 L316.74,552.02 L317.68,553.21 L318.67,554.43 L319.72,555.67 L320.80,556.92 L321.93,558.19 L323.09,559.46 L324.28,560.72 L325.50,561.99 L326.74,563.24 L328.00,564.48 L329.27,565.69 L330.54,566.89 L331.81,568.05 L333.08,569.17 L334.33,570.25 L335.57,571.29 L336.79,572.28 L337.99,573.22 L339.16,574.10 L340.28,574.92 L341.37,575.68 L342.42,576.37 L343.42,576.99 L344.36,577.54 L345.25,578.01 L346.08,578.41 L346.84,578.73 L347.54,578.97 L348.16,579.13 L348.72,579.21 L349.20,579.20 L349.60,579.12 L349.93,578.95 L350.18,578.71 L350.34,578.38 L350.43,577.98 L350.43,577.50 L350.35,576.94 L350.19,576.32 L349.95,575.62 L349.63,574.86 L349.23,574.04 L348.76,573.15 L348.21,572.21 L347.59,571.21 L346.90,570.17 L346.14,569.08 L345.32,567.95 L344.43,566.79 L343.49,565.60 L342.50,564.38 L341.46,563.14 L340.37,561.89 L339.25,560.62 L338.08,559.35 L336.89,558.09 L335.67,556.82 L334.43,555.57 Z" fill="#810823" stroke="#810823" stroke-width="2.2" stroke-linejoin="round"/>
<path d="M382.73,553.98 L381.50,552.77 L380.25,551.59 L378.98,550.44 L377.71,549.32 L376.44,548.25 L375.17,547.23 L373.91,546.25 L372.66,545.33 L371.44,544.46 L370.23,543.66 L369.06,542.92 L367.92,542.25 L366.82,541.65 L365.76,541.13 L364.75,540.68 L363.79,540.30 L362.88,540.00 L362.04,539.79 L361.26,539.65 L360.54,539.60 L359.89,539.62 L359.32,539.73 L358.81,539.92 L358.39,540.19 L358.04,540.54 L357.77,540.96 L357.58,541.46 L357.47,542.04 L357.45,542.68 L357.50,543.40 L357.64,544.18 L357.85,545.02 L358.15,545.93 L358.53,546.88 L358.98,547.89 L359.51,548.95 L360.11,550.05 L360.78,551.19 L361.52,552.36 L362.32,553.56 L363.19,554.78 L364.11,556.03 L365.09,557.28 L366.12,558.55 L367.19,559.82 L368.31,561.09 L369.46,562.35 L370.65,563.60 L371.86,564.83 L373.09,566.04 L374.35,567.22 L375.61,568.37 L376.88,569.49 L378.15,570.56 L379.42,571.58 L380.68,572.56 L381.93,573.48 L383.16,574.35 L384.36,575.15 L385.53,575.89 L386.67,576.56 L387.77,577.16 L388.83,577.68 L389.84,578.13 L390.80,578.51 L391.71,578.81 L392.55,579.02 L393.34,579.16 L394.05,579.21 L394.70,579.19 L395.28,579.08 L395.78,578.89 L396.20,578.62 L396.55,578.27 L396.82,577.85 L397.01,577.35 L397.12,576.77 L397.15,576.13 L397.09,575.41 L396.95,574.63 L396.74,573.79 L396.44,572.88 L396.06,571.93 L395.61,570.92 L395.08,569.86 L394.48,568.76 L393.81,567.62 L393.07,566.45 L392.27,565.25 L391.40,564.03 L390.48,562.78 L389.50,561.53 L388.47,560.26 L387.40,558.99 L386.28,557.72 L385.13,556.46 L383.94,555.21 L382.73,553.98 Z" fill="#A01228" stroke="#A01228" stroke-width="2.2" stroke-linejoin="round"/>
<path d="M442.94,540.51 L442.52,540.17 L442.02,539.90 L441.45,539.72 L440.81,539.62 L440.10,539.60 L439.32,539.66 L438.48,539.80 L437.58,540.02 L436.63,540.33 L435.62,540.71 L434.56,541.16 L433.46,541.70 L432.33,542.30 L431.15,542.98 L429.95,543.72 L428.73,544.53 L427.48,545.40 L426.22,546.32 L424.96,547.30 L423.68,548.33 L422.41,549.41 L421.15,550.52 L419.89,551.68 L418.66,552.86 L417.44,554.07 L416.26,555.30 L415.10,556.55 L413.98,557.82 L412.91,559.08 L411.88,560.35 L410.89,561.62 L409.97,562.88 L409.09,564.12 L408.29,565.34 L407.54,566.54 L406.86,567.71 L406.26,568.85 L405.72,569.94 L405.27,570.99 L404.88,572.00 L404.58,572.95 L404.36,573.85 L404.22,574.69 L404.16,575.47 L404.18,576.18 L404.28,576.82 L404.46,577.39 L404.72,577.88 L405.07,578.30 L405.49,578.64 L405.98,578.91 L406.56,579.09 L407.20,579.19 L407.91,579.21 L408.69,579.15 L409.53,579.01 L410.43,578.79 L411.38,578.48 L412.39,578.10 L413.45,577.65 L414.54,577.11 L415.68,576.51 L416.85,575.83 L418.05,575.09 L419.28,574.28 L420.53,573.41 L421.78,572.49 L423.05,571.51 L424.33,570.48 L425.60,569.40 L426.86,568.29 L428.11,567.13 L429.35,565.95 L430.56,564.74 L431.75,563.51 L432.91,562.26 L434.02,560.99 L435.10,559.73 L436.13,558.46 L437.12,557.19 L438.04,555.93 L438.91,554.69 L439.72,553.47 L440.47,552.27 L441.14,551.10 L441.75,549.96 L442.28,548.87 L442.74,547.82 L443.12,546.81 L443.43,545.86 L443.65,544.96 L443.79,544.12 L443.85,543.34 L443.83,542.63 L443.73,541.99 L443.55,541.42 L443.28,540.93 L442.94,540.51 Z" fill="#1E61A5" stroke="#1E61A5" stroke-width="2.2" stroke-linejoin="round"/>
<path d="M489.86,540.30 L489.48,540.01 L489.03,539.79 L488.50,539.65 L487.90,539.60 L487.23,539.62 L486.49,539.73 L485.68,539.92 L484.82,540.19 L483.89,540.54 L482.91,540.96 L481.88,541.46 L480.81,542.04 L479.69,542.68 L478.54,543.40 L477.36,544.18 L476.15,545.02 L474.91,545.92 L473.66,546.88 L472.40,547.89 L471.12,548.95 L469.85,550.04 L468.58,551.18 L467.32,552.35 L466.08,553.55 L464.85,554.78 L463.65,556.02 L462.47,557.28 L461.33,558.55 L460.23,559.82 L459.17,561.08 L458.16,562.35 L457.20,563.59 L456.30,564.83 L455.45,566.04 L454.67,567.22 L453.95,568.37 L453.31,569.48 L452.73,570.55 L452.23,571.58 L451.80,572.56 L451.45,573.48 L451.19,574.34 L451.00,575.15 L450.89,575.88 L450.86,576.55 L450.92,577.15 L451.05,577.68 L451.27,578.13 L451.57,578.51 L451.94,578.80 L452.40,579.02 L452.93,579.16 L453.53,579.21 L454.20,579.19 L454.94,579.08 L455.74,578.89 L456.61,578.62 L457.53,578.27 L458.51,577.85 L459.54,577.35 L460.61,576.77 L461.73,576.13 L462.88,575.41 L464.07,574.63 L465.28,573.79 L466.51,572.89 L467.77,571.93 L469.03,570.92 L470.30,569.86 L471.57,568.77 L472.84,567.63 L474.10,566.46 L475.35,565.26 L476.58,564.03 L477.78,562.79 L478.95,561.53 L480.09,560.26 L481.19,558.99 L482.25,557.73 L483.26,556.46 L484.22,555.22 L485.13,553.98 L485.97,552.77 L486.75,551.59 L487.47,550.44 L488.12,549.33 L488.69,548.26 L489.20,547.23 L489.62,546.25 L489.97,545.33 L490.24,544.47 L490.43,543.66 L490.54,542.93 L490.56,542.26 L490.51,541.66 L490.37,541.13 L490.15,540.68 L489.86,540.30 Z" fill="#195696" stroke="#195696" stroke-width="2.2" stroke-linejoin="round"/>
<path d="M536.92,539.95 L536.64,539.75 L536.29,539.63 L535.85,539.60 L535.34,539.64 L534.76,539.77 L534.10,539.98 L533.38,540.26 L532.59,540.63 L531.74,541.07 L530.83,541.59 L529.86,542.19 L528.85,542.85 L527.78,543.58 L526.68,544.37 L525.53,545.23 L524.35,546.15 L523.15,547.12 L521.92,548.14 L520.67,549.21 L519.41,550.32 L518.14,551.46 L516.87,552.64 L515.60,553.85 L514.33,555.08 L513.08,556.32 L511.85,557.58 L510.64,558.85 L509.46,560.12 L508.31,561.39 L507.20,562.65 L506.13,563.89 L505.11,565.12 L504.14,566.32 L503.22,567.50 L502.36,568.64 L501.56,569.74 L500.83,570.81 L500.16,571.82 L499.57,572.78 L499.05,573.69 L498.61,574.54 L498.24,575.33 L497.95,576.05 L497.74,576.71 L497.62,577.29 L497.57,577.80 L497.61,578.23 L497.72,578.59 L497.92,578.86 L498.20,579.06 L498.56,579.18 L498.99,579.21 L499.50,579.17 L500.08,579.04 L500.74,578.83 L501.46,578.55 L502.25,578.18 L503.10,577.74 L504.01,577.22 L504.98,576.62 L506.00,575.96 L507.06,575.23 L508.17,574.44 L509.31,573.58 L510.49,572.66 L511.69,571.69 L512.92,570.67 L514.17,569.60 L515.43,568.49 L516.70,567.35 L517.97,566.17 L519.24,564.96 L520.51,563.73 L521.76,562.49 L522.99,561.23 L524.20,559.96 L525.38,558.69 L526.53,557.42 L527.64,556.16 L528.71,554.92 L529.73,553.69 L530.71,552.49 L531.62,551.31 L532.48,550.17 L533.28,549.07 L534.01,548.00 L534.68,546.99 L535.27,546.03 L535.79,545.12 L536.23,544.27 L536.60,543.48 L536.89,542.76 L537.10,542.10 L537.23,541.52 L537.27,541.01 L537.24,540.58 L537.12,540.22 L536.92,539.95 Z" fill="#0F437B" stroke="#0F437B" stroke-width="2.2" stroke-linejoin="round"/>
<path d="M583.98,539.60 L583.93,539.63 L583.80,539.74 L583.59,539.93 L583.29,540.21 L582.92,540.56 L582.48,540.99 L581.95,541.50 L581.36,542.08 L580.69,542.73 L579.95,543.45 L579.15,544.23 L578.29,545.08 L577.37,545.98 L576.40,546.94 L575.37,547.96 L574.30,549.02 L573.19,550.12 L572.04,551.26 L570.85,552.43 L569.64,553.63 L568.41,554.86 L567.16,556.11 L565.90,557.36 L564.63,558.63 L563.35,559.90 L562.08,561.17 L560.82,562.43 L559.58,563.68 L558.35,564.91 L557.14,566.11 L555.97,567.30 L554.82,568.44 L553.72,569.55 L552.66,570.62 L551.64,571.65 L550.68,572.62 L549.77,573.54 L548.92,574.40 L548.14,575.20 L547.42,575.93 L546.76,576.60 L546.18,577.19 L545.68,577.71 L545.25,578.16 L544.89,578.53 L544.62,578.82 L544.42,579.03 L544.31,579.16 L544.28,579.21 L544.33,579.18 L544.46,579.07 L544.67,578.88 L544.96,578.60 L545.33,578.25 L545.78,577.82 L546.31,577.31 L546.90,576.73 L547.57,576.08 L548.30,575.36 L549.11,574.58 L549.97,573.73 L550.89,572.83 L551.86,571.87 L552.89,570.85 L553.96,569.79 L555.07,568.69 L556.22,567.55 L557.41,566.38 L558.62,565.18 L559.85,563.95 L561.10,562.70 L562.36,561.45 L563.63,560.18 L564.91,558.91 L566.17,557.64 L567.44,556.38 L568.68,555.13 L569.91,553.90 L571.12,552.70 L572.29,551.51 L573.44,550.37 L574.54,549.26 L575.60,548.19 L576.62,547.16 L577.58,546.19 L578.49,545.27 L579.34,544.41 L580.12,543.61 L580.84,542.88 L581.49,542.21 L582.07,541.62 L582.58,541.10 L583.01,540.65 L583.37,540.28 L583.64,539.99 L583.83,539.78 L583.95,539.65 L583.98,539.60 Z" fill="#053061" stroke="#053061" stroke-width="2.2" stroke-linejoin="round"/>
<path d="M630.69,539.60 L630.65,539.64 L630.53,539.76 L630.32,539.96 L630.04,540.24 L629.68,540.60 L629.24,541.04 L628.72,541.56 L628.13,542.14 L627.47,542.80 L626.75,543.53 L625.95,544.32 L625.10,545.18 L624.18,546.09 L623.21,547.05 L622.19,548.07 L621.13,549.14 L620.02,550.24 L618.87,551.39 L617.69,552.56 L616.49,553.77 L615.25,555.00 L614.01,556.24 L612.74,557.50 L611.47,558.77 L610.20,560.04 L608.93,561.31 L607.67,562.57 L606.42,563.81 L605.19,565.04 L603.98,566.25 L602.80,567.42 L601.66,568.57 L600.55,569.67 L599.48,570.74 L598.46,571.76 L597.49,572.72 L596.58,573.63 L595.72,574.49 L594.93,575.28 L594.20,576.01 L593.54,576.67 L592.95,577.25 L592.44,577.77 L592.00,578.21 L591.64,578.57 L591.35,578.85 L591.15,579.05 L591.03,579.17 L590.99,579.21 L591.03,579.17 L591.15,579.05 L591.35,578.85 L591.64,578.57 L592.00,578.21 L592.44,577.77 L592.95,577.25 L593.54,576.67 L594.20,576.01 L594.93,575.28 L595.72,574.49 L596.58,573.63 L597.49,572.72 L598.46,571.76 L599.48,570.74 L600.55,569.67 L601.66,568.57 L602.80,567.42 L603.98,566.25 L605.19,565.04 L606.42,563.81 L607.67,562.57 L608.93,561.31 L610.20,560.04 L611.47,558.77 L612.74,557.50 L614.01,556.24 L615.25,555.00 L616.49,553.77 L617.69,552.56 L618.87,551.39 L620.02,550.24 L621.13,549.14 L622.19,548.07 L623.21,547.05 L624.18,546.09 L625.10,545.18 L625.95,544.32 L626.75,543.53 L627.47,542.80 L628.13,542.14 L628.72,541.56 L629.24,541.04 L629.68,540.60 L630.04,540.24 L630.32,539.96 L630.53,539.76 L630.65,539.64 L630.69,539.60 Z" fill="#053061" stroke="#053061" stroke-width="2.2" stroke-linejoin="round"/>
<path d="M144.38,605.39 L143.11,604.12 L141.84,602.86 L140.58,601.62 L139.33,600.39 L138.10,599.18 L136.89,598.00 L135.71,596.86 L134.56,595.75 L133.46,594.69 L132.39,593.67 L131.37,592.70 L130.40,591.79 L129.49,590.94 L128.63,590.14 L127.84,589.42 L127.11,588.76 L126.45,588.17 L125.87,587.66 L125.35,587.22 L124.91,586.86 L124.55,586.57 L124.27,586.37 L124.07,586.25 L123.94,586.21 L123.90,586.25 L123.94,586.37 L124.07,586.57 L124.27,586.85 L124.55,587.21 L124.92,587.65 L125.36,588.16 L125.87,588.75 L126.46,589.41 L127.12,590.13 L127.85,590.93 L128.64,591.78 L129.50,592.69 L130.41,593.66 L131.38,594.67 L132.40,595.74 L133.47,596.84 L134.58,597.99 L135.73,599.17 L136.91,600.37 L138.11,601.60 L139.35,602.85 L140.59,604.10 L141.86,605.37 L143.13,606.64 L144.40,607.91 L145.67,609.17 L146.93,610.41 L148.18,611.64 L149.41,612.85 L150.62,614.03 L151.80,615.17 L152.94,616.28 L154.05,617.34 L155.12,618.36 L156.14,619.33 L157.11,620.24 L158.02,621.09 L158.88,621.89 L159.67,622.61 L160.40,623.27 L161.05,623.86 L161.64,624.37 L162.16,624.81 L162.60,625.17 L162.96,625.46 L163.24,625.66 L163.44,625.78 L163.56,625.82 L163.61,625.78 L163.56,625.66 L163.44,625.46 L163.24,625.18 L162.95,624.82 L162.59,624.38 L162.15,623.87 L161.64,623.28 L161.05,622.62 L160.39,621.90 L159.66,621.10 L158.86,620.25 L158.01,619.34 L157.09,618.37 L156.12,617.36 L155.10,616.29 L154.04,615.19 L152.93,614.04 L151.78,612.86 L150.60,611.66 L149.39,610.43 L148.16,609.18 L146.91,607.93 L145.65,606.66 L144.38,605.39 Z" fill="#67001F" stroke="#67001F" stroke-width="2.2" stroke-linejoin="round"/>
<path d="M192.68,603.80 L191.41,602.54 L190.14,601.30 L188.87,600.08 L187.61,598.88 L186.35,597.71 L185.12,596.57 L183.90,595.48 L182.72,594.43 L181.56,593.42 L180.44,592.47 L179.37,591.57 L178.33,590.73 L177.35,589.95 L176.42,589.24 L175.55,588.60 L174.74,588.03 L174.00,587.54 L173.32,587.12 L172.72,586.78 L172.18,586.51 L171.72,586.33 L171.34,586.23 L171.04,586.21 L170.82,586.27 L170.67,586.41 L170.61,586.63 L170.63,586.94 L170.74,587.32 L170.92,587.77 L171.18,588.31 L171.53,588.91 L171.95,589.59 L172.44,590.33 L173.01,591.14 L173.66,592.01 L174.37,592.93 L175.14,593.91 L175.99,594.94 L176.89,596.02 L177.84,597.13 L178.85,598.28 L179.90,599.47 L181.00,600.68 L182.14,601.91 L183.31,603.16 L184.51,604.43 L185.74,605.69 L186.98,606.96 L188.24,608.23 L189.51,609.49 L190.78,610.73 L192.05,611.95 L193.32,613.15 L194.57,614.32 L195.81,615.46 L197.02,616.55 L198.21,617.60 L199.36,618.61 L200.48,619.56 L201.56,620.46 L202.59,621.30 L203.57,622.08 L204.50,622.79 L205.37,623.43 L206.18,624.00 L206.93,624.49 L207.60,624.91 L208.21,625.25 L208.74,625.52 L209.20,625.70 L209.58,625.80 L209.88,625.82 L210.11,625.76 L210.25,625.62 L210.31,625.40 L210.29,625.09 L210.19,624.71 L210.01,624.26 L209.74,623.72 L209.40,623.12 L208.98,622.44 L208.48,621.70 L207.91,620.89 L207.27,620.02 L206.56,619.10 L205.78,618.12 L204.94,617.09 L204.04,616.01 L203.08,614.90 L202.08,613.75 L201.02,612.56 L199.92,611.35 L198.78,610.12 L197.61,608.87 L196.41,607.60 L195.19,606.34 L193.94,605.07 L192.68,603.80 Z" fill="#6F0220" stroke="#6F0220" stroke-width="2.2" stroke-linejoin="round"/>
<path d="M240.75,602.44 L239.49,601.20 L238.22,599.98 L236.95,598.79 L235.68,597.62 L234.41,596.49 L233.16,595.39 L231.92,594.34 L230.71,593.34 L229.52,592.39 L228.36,591.50 L227.24,590.67 L226.16,589.89 L225.12,589.19 L224.14,588.55 L223.20,587.99 L222.33,587.50 L221.51,587.09 L220.76,586.75 L220.08,586.50 L219.47,586.32 L218.93,586.22 L218.47,586.21 L218.08,586.28 L217.77,586.43 L217.54,586.65 L217.39,586.96 L217.32,587.35 L217.34,587.81 L217.43,588.35 L217.61,588.96 L217.87,589.64 L218.20,590.39 L218.62,591.20 L219.11,592.08 L219.67,593.01 L220.31,593.99 L221.02,595.03 L221.79,596.10 L222.62,597.22 L223.52,598.38 L224.47,599.57 L225.47,600.78 L226.53,602.01 L227.62,603.26 L228.76,604.53 L229.93,605.80 L231.12,607.07 L232.35,608.33 L233.59,609.59 L234.85,610.83 L236.12,612.05 L237.39,613.24 L238.66,614.41 L239.93,615.54 L241.18,616.64 L242.42,617.69 L243.63,618.69 L244.82,619.64 L245.98,620.53 L247.10,621.36 L248.18,622.14 L249.22,622.84 L250.21,623.48 L251.14,624.04 L252.01,624.53 L252.83,624.94 L253.58,625.28 L254.26,625.53 L254.87,625.71 L255.41,625.81 L255.88,625.82 L256.26,625.75 L256.57,625.60 L256.80,625.38 L256.95,625.07 L257.02,624.68 L257.00,624.22 L256.91,623.68 L256.73,623.07 L256.47,622.39 L256.14,621.64 L255.72,620.83 L255.23,619.95 L254.67,619.02 L254.03,618.04 L253.33,617.00 L252.55,615.93 L251.72,614.81 L250.82,613.65 L249.87,612.46 L248.87,611.25 L247.82,610.02 L246.72,608.77 L245.59,607.50 L244.42,606.23 L243.22,604.96 L241.99,603.70 L240.75,602.44 Z" fill="#7E0723" stroke="#7E0723" stroke-width="2.2" stroke-linejoin="round"/>
<path d="M286.86,603.04 L285.59,601.79 L284.32,600.56 L283.05,599.35 L281.78,598.17 L280.52,597.02 L279.27,595.91 L278.05,594.84 L276.84,593.82 L275.67,592.84 L274.53,591.92 L273.42,591.06 L272.36,590.26 L271.35,589.52 L270.39,588.85 L269.49,588.25 L268.64,587.73 L267.86,587.28 L267.14,586.90 L266.49,586.61 L265.91,586.39 L265.41,586.26 L264.98,586.21 L264.63,586.24 L264.36,586.34 L264.17,586.54 L264.06,586.81 L264.03,587.16 L264.08,587.58 L264.22,588.08 L264.43,588.66 L264.73,589.31 L265.10,590.03 L265.55,590.81 L266.08,591.65 L266.68,592.56 L267.35,593.51 L268.09,594.52 L268.89,595.58 L269.75,596.68 L270.68,597.82 L271.65,598.99 L272.68,600.19 L273.75,601.42 L274.87,602.66 L276.02,603.92 L277.20,605.19 L278.42,606.46 L279.65,607.73 L280.90,608.99 L282.17,610.24 L283.44,611.47 L284.71,612.68 L285.98,613.86 L287.24,615.01 L288.48,616.12 L289.71,617.19 L290.92,618.21 L292.09,619.19 L293.23,620.11 L294.33,620.97 L295.39,621.77 L296.41,622.51 L297.37,623.18 L298.27,623.78 L299.12,624.30 L299.90,624.75 L300.62,625.13 L301.27,625.42 L301.85,625.64 L302.35,625.77 L302.78,625.82 L303.13,625.79 L303.40,625.69 L303.59,625.49 L303.70,625.22 L303.73,624.87 L303.68,624.45 L303.54,623.95 L303.33,623.37 L303.03,622.72 L302.66,622.00 L302.21,621.22 L301.68,620.38 L301.08,619.47 L300.41,618.52 L299.67,617.51 L298.87,616.45 L298.00,615.35 L297.08,614.21 L296.10,613.04 L295.08,611.84 L294.00,610.61 L292.89,609.37 L291.74,608.11 L290.55,606.84 L289.34,605.57 L288.11,604.30 L286.86,603.04 Z" fill="#760521" stroke="#760521" stroke-width="2.2" stroke-linejoin="round"/>
<path d="M334.03,602.58 L332.77,601.34 L331.50,600.12 L330.23,598.92 L328.95,597.75 L327.69,596.61 L326.44,595.51 L325.20,594.46 L323.99,593.45 L322.80,592.50 L321.65,591.60 L320.53,590.76 L319.46,589.98 L318.43,589.27 L317.45,588.62 L316.52,588.05 L315.65,587.55 L314.84,587.13 L314.10,586.79 L313.43,586.52 L312.82,586.34 L312.29,586.23 L311.84,586.21 L311.46,586.27 L311.16,586.41 L310.94,586.63 L310.80,586.92 L310.74,587.30 L310.76,587.76 L310.87,588.29 L311.05,588.89 L311.32,589.56 L311.66,590.30 L312.09,591.11 L312.59,591.98 L313.16,592.90 L313.80,593.88 L314.52,594.91 L315.30,595.98 L316.14,597.10 L317.04,598.25 L318.00,599.43 L319.01,600.64 L320.06,601.87 L321.16,603.12 L322.30,604.39 L323.48,605.65 L324.68,606.92 L325.90,608.19 L327.15,609.45 L328.41,610.69 L329.68,611.91 L330.95,613.11 L332.22,614.28 L333.49,615.42 L334.74,616.52 L335.97,617.57 L337.19,618.58 L338.37,619.53 L339.53,620.43 L340.64,621.27 L341.72,622.05 L342.75,622.76 L343.73,623.41 L344.66,623.98 L345.52,624.48 L346.33,624.90 L347.07,625.24 L347.75,625.51 L348.35,625.69 L348.88,625.80 L349.34,625.82 L349.72,625.76 L350.02,625.62 L350.24,625.40 L350.38,625.11 L350.44,624.73 L350.41,624.27 L350.31,623.74 L350.12,623.14 L349.86,622.47 L349.51,621.73 L349.09,620.92 L348.59,620.05 L348.02,619.13 L347.37,618.15 L346.66,617.12 L345.88,616.05 L345.04,614.93 L344.13,613.78 L343.18,612.60 L342.17,611.39 L341.11,610.16 L340.01,608.91 L338.87,607.64 L337.70,606.38 L336.50,605.11 L335.27,603.84 L334.03,602.58 Z" fill="#7E0723" stroke="#7E0723" stroke-width="2.2" stroke-linejoin="round"/>
<path d="M382.82,600.50 L381.59,599.29 L380.34,598.11 L379.08,596.97 L377.81,595.85 L376.53,594.79 L375.26,593.76 L374.00,592.79 L372.75,591.87 L371.53,591.01 L370.32,590.22 L369.14,589.48 L368.00,588.82 L366.90,588.22 L365.83,587.70 L364.82,587.26 L363.86,586.89 L362.95,586.60 L362.10,586.38 L361.31,586.25 L360.59,586.21 L359.94,586.24 L359.36,586.35 L358.85,586.55 L358.42,586.82 L358.06,587.18 L357.79,587.61 L357.59,588.11 L357.48,588.69 L357.45,589.34 L357.49,590.06 L357.62,590.85 L357.84,591.70 L358.13,592.60 L358.50,593.57 L358.94,594.58 L359.47,595.64 L360.06,596.74 L360.73,597.88 L361.46,599.05 L362.26,600.26 L363.12,601.48 L364.04,602.73 L365.02,603.99 L366.04,605.25 L367.11,606.52 L368.23,607.79 L369.38,609.05 L370.56,610.30 L371.77,611.53 L373.00,612.74 L374.25,613.92 L375.52,615.06 L376.79,616.18 L378.06,617.24 L379.33,618.27 L380.59,619.24 L381.84,620.16 L383.07,621.02 L384.27,621.81 L385.45,622.55 L386.59,623.21 L387.69,623.81 L388.76,624.33 L389.77,624.77 L390.74,625.14 L391.64,625.43 L392.49,625.65 L393.28,625.78 L394.00,625.82 L394.65,625.79 L395.24,625.68 L395.74,625.48 L396.18,625.21 L396.53,624.85 L396.80,624.42 L397.00,623.92 L397.11,623.34 L397.15,622.69 L397.10,621.97 L396.97,621.18 L396.76,620.33 L396.47,619.43 L396.10,618.46 L395.65,617.45 L395.13,616.39 L394.53,615.29 L393.86,614.15 L393.13,612.98 L392.33,611.77 L391.47,610.55 L390.55,609.30 L389.57,608.04 L388.55,606.78 L387.48,605.51 L386.36,604.24 L385.21,602.98 L384.03,601.73 L382.82,600.50 Z" fill="#A01228" stroke="#A01228" stroke-width="2.2" stroke-linejoin="round"/>
<path d="M442.94,587.12 L442.52,586.78 L442.02,586.51 L441.45,586.33 L440.81,586.23 L440.10,586.21 L439.32,586.27 L438.48,586.41 L437.58,586.63 L436.63,586.94 L435.62,587.32 L434.56,587.77 L433.46,588.31 L432.33,588.91 L431.15,589.59 L429.95,590.33 L428.73,591.14 L427.48,592.01 L426.22,592.93 L424.96,593.91 L423.68,594.94 L422.41,596.02 L421.15,597.13 L419.89,598.29 L418.66,599.47 L417.44,600.68 L416.26,601.91 L415.10,603.16 L413.98,604.43 L412.91,605.69 L411.88,606.96 L410.89,608.23 L409.97,609.49 L409.09,610.73 L408.29,611.95 L407.54,613.15 L406.86,614.32 L406.26,615.46 L405.72,616.55 L405.27,617.60 L404.88,618.61 L404.58,619.56 L404.36,620.46 L404.22,621.30 L404.16,622.08 L404.18,622.79 L404.28,623.43 L404.46,624.00 L404.72,624.49 L405.07,624.91 L405.49,625.25 L405.98,625.52 L406.56,625.70 L407.20,625.80 L407.91,625.82 L408.69,625.76 L409.53,625.62 L410.43,625.40 L411.38,625.09 L412.39,624.71 L413.45,624.26 L414.54,623.72 L415.68,623.12 L416.85,622.44 L418.05,621.70 L419.28,620.89 L420.53,620.02 L421.78,619.10 L423.05,618.12 L424.33,617.09 L425.60,616.01 L426.86,614.90 L428.11,613.74 L429.35,612.56 L430.56,611.35 L431.75,610.12 L432.91,608.87 L434.02,607.60 L435.10,606.34 L436.13,605.07 L437.12,603.80 L438.04,602.54 L438.91,601.30 L439.72,600.08 L440.47,598.88 L441.14,597.71 L441.75,596.57 L442.28,595.48 L442.74,594.43 L443.12,593.42 L443.43,592.47 L443.65,591.57 L443.79,590.73 L443.85,589.95 L443.83,589.24 L443.73,588.60 L443.55,588.03 L443.28,587.54 L442.94,587.12 Z" fill="#1E61A5" stroke="#1E61A5" stroke-width="2.2" stroke-linejoin="round"/>
<path d="M489.86,586.91 L489.48,586.62 L489.03,586.40 L488.50,586.26 L487.90,586.21 L487.23,586.23 L486.49,586.34 L485.68,586.53 L484.82,586.80 L483.89,587.15 L482.91,587.57 L481.88,588.07 L480.81,588.65 L479.69,589.29 L478.54,590.01 L477.36,590.79 L476.15,591.63 L474.91,592.53 L473.66,593.49 L472.40,594.50 L471.12,595.56 L469.85,596.65 L468.58,597.79 L467.32,598.96 L466.08,600.16 L464.85,601.39 L463.65,602.63 L462.47,603.89 L461.33,605.16 L460.23,606.43 L459.17,607.69 L458.16,608.96 L457.20,610.20 L456.30,611.44 L455.45,612.65 L454.67,613.83 L453.95,614.98 L453.31,616.09 L452.73,617.16 L452.23,618.19 L451.80,619.17 L451.45,620.09 L451.19,620.95 L451.00,621.76 L450.89,622.49 L450.86,623.16 L450.92,623.76 L451.05,624.29 L451.27,624.74 L451.57,625.12 L451.94,625.41 L452.40,625.63 L452.93,625.77 L453.53,625.82 L454.20,625.80 L454.94,625.69 L455.74,625.50 L456.61,625.23 L457.53,624.88 L458.51,624.46 L459.54,623.96 L460.61,623.38 L461.73,622.74 L462.88,622.02 L464.07,621.24 L465.28,620.40 L466.51,619.50 L467.77,618.54 L469.03,617.53 L470.30,616.47 L471.57,615.38 L472.84,614.24 L474.10,613.07 L475.35,611.87 L476.58,610.64 L477.78,609.40 L478.95,608.14 L480.09,606.87 L481.19,605.60 L482.25,604.34 L483.26,603.07 L484.22,601.83 L485.13,600.59 L485.97,599.38 L486.75,598.20 L487.47,597.05 L488.12,595.94 L488.69,594.87 L489.20,593.84 L489.62,592.86 L489.97,591.94 L490.24,591.08 L490.43,590.27 L490.54,589.54 L490.56,588.87 L490.51,588.27 L490.37,587.74 L490.15,587.29 L489.86,586.91 Z" fill="#195696" stroke="#195696" stroke-width="2.2" stroke-linejoin="round"/>
<path d="M536.92,586.56 L536.64,586.36 L536.29,586.24 L535.85,586.21 L535.34,586.25 L534.76,586.38 L534.10,586.59 L533.38,586.87 L532.59,587.24 L531.74,587.68 L530.83,588.20 L529.86,588.80 L528.85,589.46 L527.78,590.19 L526.68,590.98 L525.53,591.84 L524.35,592.76 L523.15,593.73 L521.92,594.75 L520.67,595.82 L519.41,596.93 L518.14,598.07 L516.87,599.25 L515.60,600.46 L514.33,601.69 L513.08,602.93 L511.85,604.19 L510.64,605.46 L509.46,606.73 L508.31,608.00 L507.20,609.26 L506.13,610.50 L505.11,611.73 L504.14,612.93 L503.22,614.11 L502.36,615.25 L501.56,616.35 L500.83,617.42 L500.16,618.43 L499.57,619.39 L499.05,620.30 L498.61,621.15 L498.24,621.94 L497.95,622.66 L497.74,623.32 L497.62,623.90 L497.57,624.41 L497.61,624.84 L497.72,625.20 L497.92,625.47 L498.20,625.67 L498.56,625.79 L498.99,625.82 L499.50,625.78 L500.08,625.65 L500.74,625.44 L501.46,625.16 L502.25,624.79 L503.10,624.35 L504.01,623.83 L504.98,623.23 L506.00,622.57 L507.06,621.84 L508.17,621.05 L509.31,620.19 L510.49,619.27 L511.69,618.30 L512.92,617.28 L514.17,616.21 L515.43,615.10 L516.70,613.96 L517.97,612.78 L519.24,611.57 L520.51,610.34 L521.76,609.10 L522.99,607.84 L524.20,606.57 L525.38,605.30 L526.53,604.03 L527.64,602.77 L528.71,601.53 L529.73,600.30 L530.71,599.10 L531.62,597.92 L532.48,596.78 L533.28,595.68 L534.01,594.61 L534.68,593.60 L535.27,592.64 L535.79,591.73 L536.23,590.88 L536.60,590.09 L536.89,589.37 L537.10,588.71 L537.23,588.13 L537.27,587.62 L537.24,587.19 L537.12,586.83 L536.92,586.56 Z" fill="#0F437B" stroke="#0F437B" stroke-width="2.2" stroke-linejoin="round"/>
<path d="M583.97,586.22 L583.89,586.22 L583.73,586.30 L583.48,586.46 L583.16,586.70 L582.76,587.03 L582.28,587.43 L581.73,587.90 L581.11,588.46 L580.42,589.08 L579.65,589.77 L578.83,590.53 L577.95,591.36 L577.00,592.24 L576.01,593.18 L574.97,594.17 L573.88,595.22 L572.75,596.30 L571.59,597.43 L570.39,598.59 L569.17,599.78 L567.93,601.00 L566.68,602.24 L565.41,603.49 L564.14,604.75 L562.87,606.02 L561.60,607.29 L560.34,608.56 L559.10,609.81 L557.88,611.05 L556.69,612.27 L555.52,613.46 L554.40,614.62 L553.31,615.74 L552.26,616.83 L551.27,617.87 L550.33,618.86 L549.44,619.80 L548.61,620.69 L547.85,621.51 L547.16,622.27 L546.53,622.96 L545.98,623.58 L545.50,624.13 L545.10,624.61 L544.78,625.01 L544.53,625.33 L544.37,625.57 L544.29,625.73 L544.29,625.81 L544.37,625.81 L544.53,625.73 L544.77,625.57 L545.10,625.33 L545.50,625.00 L545.97,624.60 L546.53,624.13 L547.15,623.57 L547.84,622.95 L548.60,622.26 L549.43,621.50 L550.31,620.67 L551.25,619.79 L552.25,618.85 L553.29,617.86 L554.38,616.81 L555.51,615.73 L556.67,614.60 L557.87,613.44 L559.09,612.25 L560.33,611.03 L561.58,609.79 L562.85,608.54 L564.12,607.28 L565.39,606.01 L566.66,604.74 L567.92,603.47 L569.16,602.22 L570.38,600.98 L571.57,599.76 L572.73,598.57 L573.86,597.41 L574.95,596.29 L576.00,595.20 L576.99,594.16 L577.93,593.17 L578.82,592.23 L579.64,591.34 L580.41,590.52 L581.10,589.76 L581.73,589.07 L582.28,588.45 L582.76,587.90 L583.16,587.42 L583.48,587.02 L583.72,586.70 L583.89,586.46 L583.97,586.30 L583.97,586.22 Z" fill="#053061" stroke="#053061" stroke-width="2.2" stroke-linejoin="round"/>
<path d="M630.68,586.22 L630.60,586.22 L630.44,586.30 L630.19,586.46 L629.87,586.70 L629.47,587.03 L628.99,587.43 L628.44,587.90 L627.82,588.46 L627.12,589.08 L626.36,589.77 L625.54,590.53 L624.65,591.36 L623.71,592.24 L622.72,593.18 L621.67,594.17 L620.59,595.22 L619.46,596.30 L618.29,597.43 L617.10,598.59 L615.88,599.78 L614.64,601.00 L613.38,602.24 L612.12,603.49 L610.85,604.75 L609.57,606.02 L608.31,607.29 L607.05,608.56 L605.81,609.81 L604.59,611.05 L603.40,612.27 L602.23,613.46 L601.10,614.62 L600.02,615.74 L598.97,616.83 L597.98,617.87 L597.03,618.86 L596.15,619.80 L595.32,620.69 L594.56,621.51 L593.87,622.27 L593.24,622.96 L592.69,623.58 L592.21,624.13 L591.81,624.61 L591.49,625.01 L591.24,625.33 L591.08,625.57 L591.00,625.73 L591.00,625.81 L591.08,625.81 L591.24,625.73 L591.48,625.57 L591.80,625.33 L592.20,625.00 L592.68,624.60 L593.23,624.13 L593.86,623.57 L594.55,622.95 L595.31,622.26 L596.14,621.50 L597.02,620.67 L597.96,619.79 L598.96,618.85 L600.00,617.86 L601.09,616.81 L602.22,615.73 L603.38,614.60 L604.57,613.44 L605.79,612.25 L607.03,611.03 L608.29,609.79 L609.56,608.54 L610.83,607.28 L612.10,606.01 L613.37,604.74 L614.62,603.47 L615.86,602.22 L617.08,600.98 L618.28,599.76 L619.44,598.57 L620.57,597.41 L621.66,596.29 L622.70,595.20 L623.70,594.16 L624.64,593.17 L625.53,592.23 L626.35,591.34 L627.11,590.52 L627.81,589.76 L628.43,589.07 L628.99,588.45 L629.46,587.90 L629.87,587.42 L630.19,587.02 L630.43,586.70 L630.60,586.46 L630.68,586.30 L630.68,586.22 Z" fill="#053061" stroke="#053061" stroke-width="2.2" stroke-linejoin="round"/>
<path d="M677.40,586.21 L677.36,586.25 L677.23,586.37 L677.03,586.57 L676.75,586.85 L676.39,587.21 L675.95,587.65 L675.43,588.17 L674.84,588.75 L674.18,589.41 L673.45,590.14 L672.66,590.93 L671.81,591.79 L670.89,592.70 L669.92,593.66 L668.90,594.68 L667.84,595.75 L666.73,596.85 L665.58,598.00 L664.40,599.17 L663.19,600.38 L661.96,601.61 L660.71,602.85 L659.45,604.11 L658.18,605.38 L656.91,606.65 L655.64,607.92 L654.38,609.18 L653.13,610.42 L651.90,611.65 L650.69,612.86 L649.51,614.03 L648.36,615.18 L647.26,616.28 L646.19,617.35 L645.17,618.37 L644.20,619.33 L643.29,620.24 L642.43,621.10 L641.64,621.89 L640.91,622.62 L640.25,623.28 L639.66,623.86 L639.15,624.38 L638.71,624.82 L638.34,625.18 L638.06,625.46 L637.86,625.66 L637.74,625.78 L637.69,625.82 L637.74,625.78 L637.86,625.66 L638.06,625.46 L638.34,625.18 L638.71,624.82 L639.15,624.38 L639.66,623.86 L640.25,623.28 L640.91,622.62 L641.64,621.89 L642.43,621.10 L643.29,620.24 L644.20,619.33 L645.17,618.37 L646.19,617.35 L647.26,616.28 L648.36,615.18 L649.51,614.03 L650.69,612.86 L651.90,611.65 L653.13,610.42 L654.38,609.18 L655.64,607.92 L656.91,606.65 L658.18,605.38 L659.45,604.11 L660.71,602.85 L661.96,601.61 L663.19,600.38 L664.40,599.17 L665.58,598.00 L666.73,596.85 L667.84,595.75 L668.90,594.68 L669.92,593.66 L670.89,592.70 L671.81,591.79 L672.66,590.93 L673.45,590.14 L674.18,589.41 L674.84,588.75 L675.43,588.17 L675.95,587.65 L676.39,587.21 L676.75,586.85 L677.03,586.57 L677.23,586.37 L677.36,586.25 L677.40,586.21 Z" fill="#053061" stroke="#053061" stroke-width="2.2" stroke-linejoin="round"/>
<rect x="120.40" y="70.00" width="46.71" height="46.61" fill="none" stroke="#C4C4C4" stroke-width="1.8" stroke-linejoin="round"/>
<rect x="120.40" y="116.61" width="46.71" height="46.61" fill="none" stroke="#C4C4C4" stroke-width="1.8" stroke-linejoin="round"/>
<rect x="167.11" y="116.61" width="46.71" height="46.61" fill="none" stroke="#C4C4C4" stroke-width="1.8" stroke-linejoin="round"/>
<rect x="120.40" y="163.22" width="46.71" height="46.61" fill="none" stroke="#C4C4C4" stroke-width="1.8" stroke-linejoin="round"/>
<rect x="167.11" y="163.22" width="46.71" height="46.61" fill="none" stroke="#C4C4C4" stroke-width="1.8" stroke-linejoin="round"/>
<rect x="213.82" y="163.22" width="46.71" height="46.61" fill="none" stroke="#C4C4C4" stroke-width="1.8" stroke-linejoin="round"/>
<rect x="120.40" y="209.83" width="46.71" height="46.61" fill="none" stroke="#C4C4C4" stroke-width="1.8" stroke-linejoin="round"/>
<rect x="167.11" y="209.83" width="46.71" height="46.61" fill="none" stroke="#C4C4C4" stroke-width="1.8" stroke-linejoin="round"/>
<rect x="213.82" y="209.83" width="46.71" height="46.61" fill="none" stroke="#C4C4C4" stroke-width="1.8" stroke-linejoin="round"/>
<rect x="260.52" y="209.83" width="46.71" height="46.61" fill="none" stroke="#C4C4C4" stroke-width="1.8" stroke-linejoin="round"/>
<rect x="120.40" y="256.44" width="46.71" height="46.61" fill="none" stroke="#C4C4C4" stroke-width="1.8" stroke-linejoin="round"/>
<rect x="167.11" y="256.44" width="46.71" height="46.61" fill="none" stroke="#C4C4C4" stroke-width="1.8" stroke-linejoin="round"/>
<rect x="213.82" y="256.44" width="46.71" height="46.61" fill="none" stroke="#C4C4C4" stroke-width="1.8" stroke-linejoin="round"/>
<rect x="260.52" y="256.44" width="46.71" height="46.61" fill="none" stroke="#C4C4C4" stroke-width="1.8" stroke-linejoin="round"/>
<rect x="307.23" y="256.44" width="46.71" height="46.61" fill="none" stroke="#C4C4C4" stroke-width="1.8" stroke-linejoin="round"/>
<rect x="120.40" y="303.05" width="46.71" height="46.61" fill="none" stroke="#C4C4C4" stroke-width="1.8" stroke-linejoin="round"/>
<rect x="167.11" y="303.05" width="46.71" height="46.61" fill="none" stroke="#C4C4C4" stroke-width="1.8" stroke-linejoin="round"/>
<rect x="213.82" y="303.05" width="46.71" height="46.61" fill="none" stroke="#C4C4C4" stroke-width="1.8" stroke-linejoin="round"/>
<rect x="260.52" y="303.05" width="46.71" height="46.61" fill="none" stroke="#C4C4C4" stroke-width="1.8" stroke-linejoin="round"/>
<rect x="307.23" y="303.05" width="46.71" height="46.61" fill="none" stroke="#C4C4C4" stroke-width="1.8" stroke-linejoin="round"/>
<rect x="353.94" y="303.05" width="46.71" height="46.61" fill="none" stroke="#C4C4C4" stroke-width="1.8" stroke-linejoin="round"/>
<rect x="120.40" y="349.66" width="46.71" height="46.61" fill="none" stroke="#C4C4C4" stroke-width="1.8" stroke-linejoin="round"/>
<rect x="167.11" y="349.66" width="46.71" height="46.61" fill="none" stroke="#C4C4C4" stroke-width="1.8" stroke-linejoin="round"/>
<rect x="213.82" y="349.66" width="46.71" height="46.61" fill="none" stroke="#C4C4C4" stroke-width="1.8" stroke-linejoin="round"/>
<rect x="260.52" y="349.66" width="46.71" height="46.61" fill="none" stroke="#C4C4C4" stroke-width="1.8" stroke-linejoin="round"/>
<rect x="307.23" y="349.66" width="46.71" height="46.61" fill="none" stroke="#C4C4C4" stroke-width="1.8" stroke-linejoin="round"/>
<rect x="353.94" y="349.66" width="46.71" height="46.61" fill="none" stroke="#C4C4C4" stroke-width="1.8" stroke-linejoin="round"/>
<rect x="400.65" y="349.66" width="46.71" height="46.61" fill="none" stroke="#C4C4C4" stroke-width="1.8" stroke-linejoin="round"/>
<rect x="120.40" y="396.27" width="46.71" height="46.61" fill="none" stroke="#C4C4C4" stroke-width="1.8" stroke-linejoin="round"/>
<rect x="167.11" y="396.27" width="46.71" height="46.61" fill="none" stroke="#C4C4C4" stroke-width="1.8" stroke-linejoin="round"/>
<rect x="213.82" y="396.27" width="46.71" height="46.61" fill="none" stroke="#C4C4C4" stroke-width="1.8" stroke-linejoin="round"/>
<rect x="260.52" y="396.27" width="46.71" height="46.61" fill="none" stroke="#C4C4C4" stroke-width="1.8" stroke-linejoin="round"/>
<rect x="307.23" y="396.27" width="46.71" height="46.61" fill="none" stroke="#C4C4C4" stroke-width="1.8" stroke-linejoin="round"/>
<rect x="353.94" y="396.27" width="46.71" height="46.61" fill="none" stroke="#C4C4C4" stroke-width="1.8" stroke-linejoin="round"/>
<rect x="400.65" y="396.27" width="46.71" height="46.61" fill="none" stroke="#C4C4C4" stroke-width="1.8" stroke-linejoin="round"/>
<rect x="447.36" y="396.27" width="46.71" height="46.61" fill="none" stroke="#C4C4C4" stroke-width="1.8" stroke-linejoin="round"/>
<rect x="120.40" y="442.88" width="46.71" height="46.61" fill="none" stroke="#C4C4C4" stroke-width="1.8" stroke-linejoin="round"/>
<rect x="167.11" y="442.88" width="46.71" height="46.61" fill="none" stroke="#C4C4C4" stroke-width="1.8" stroke-linejoin="round"/>
<rect x="213.82" y="442.88" width="46.71" height="46.61" fill="none" stroke="#C4C4C4" stroke-width="1.8" stroke-linejoin="round"/>
<rect x="260.52" y="442.88" width="46.71" height="46.61" fill="none" stroke="#C4C4C4" stroke-width="1.8" stroke-linejoin="round"/>
<rect x="307.23" y="442.88" width="46.71" height="46.61" fill="none" stroke="#C4C4C4" stroke-width="1.8" stroke-linejoin="round"/>
<rect x="353.94" y="442.88" width="46.71" height="46.61" fill="none" stroke="#C4C4C4" stroke-width="1.8" stroke-linejoin="round"/>
<rect x="400.65" y="442.88" width="46.71" height="46.61" fill="none" stroke="#C4C4C4" stroke-width="1.8" stroke-linejoin="round"/>
<rect x="447.36" y="442.88" width="46.71" height="46.61" fill="none" stroke="#C4C4C4" stroke-width="1.8" stroke-linejoin="round"/>
<rect x="494.07" y="442.88" width="46.71" height="46.61" fill="none" stroke="#C4C4C4" stroke-width="1.8" stroke-linejoin="round"/>
<rect x="120.40" y="489.49" width="46.71" height="46.61" fill="none" stroke="#C4C4C4" stroke-width="1.8" stroke-linejoin="round"/>
<rect x="167.11" y="489.49" width="46.71" height="46.61" fill="none" stroke="#C4C4C4" stroke-width="1.8" stroke-linejoin="round"/>
<rect x="213.82" y="489.49" width="46.71" height="46.61" fill="none" stroke="#C4C4C4" stroke-width="1.8" stroke-linejoin="round"/>
<rect x="260.52" y="489.49" width="46.71" height="46.61" fill="none" stroke="#C4C4C4" stroke-width="1.8" stroke-linejoin="round"/>
<rect x="307.23" y="489.49" width="46.71" height="46.61" fill="none" stroke="#C4C4C4" stroke-width="1.8" stroke-linejoin="round"/>
<rect x="353.94" y="489.49" width="46.71" height="46.61" fill="none" stroke="#C4C4C4" stroke-width="1.8" stroke-linejoin="round"/>
<rect x="400.65" y="489.49" width="46.71" height="46.61" fill="none" stroke="#C4C4C4" stroke-width="1.8" stroke-linejoin="round"/>
<rect x="447.36" y="489.49" width="46.71" height="46.61" fill="none" stroke="#C4C4C4" stroke-width="1.8" stroke-linejoin="round"/>
<rect x="494.07" y="489.49" width="46.71" height="46.61" fill="none" stroke="#C4C4C4" stroke-width="1.8" stroke-linejoin="round"/>
<rect x="540.77" y="489.49" width="46.71" height="46.61" fill="none" stroke="#C4C4C4" stroke-width="1.8" stroke-linejoin="round"/>
<rect x="120.40" y="536.10" width="46.71" height="46.61" fill="none" stroke="#C4C4C4" stroke-width="1.8" stroke-linejoin="round"/>
<rect x="167.11" y="536.10" width="46.71" height="46.61" fill="none" stroke="#C4C4C4" stroke-width="1.8" stroke-linejoin="round"/>
<rect x="213.82" y="536.10" width="46.71" height="46.61" fill="none" stroke="#C4C4C4" stroke-width="1.8" stroke-linejoin="round"/>
<rect x="260.52" y="536.10" width="46.71" height="46.61" fill="none" stroke="#C4C4C4" stroke-width="1.8" stroke-linejoin="round"/>
<rect x="307.23" y="536.10" width="46.71" height="46.61" fill="none" stroke="#C4C4C4" stroke-width="1.8" stroke-linejoin="round"/>
<rect x="353.94" y="536.10" width="46.71" height="46.61" fill="none" stroke="#C4C4C4" stroke-width="1.8" stroke-linejoin="round"/>
<rect x="400.65" y="536.10" width="46.71" height="46.61" fill="none" stroke="#C4C4C4" stroke-width="1.8" stroke-linejoin="round"/>
<rect x="447.36" y="536.10" width="46.71" height="46.61" fill="none" stroke="#C4C4C4" stroke-width="1.8" stroke-linejoin="round"/>
<rect x="494.07" y="536.10" width="46.71" height="46.61" fill="none" stroke="#C4C4C4" stroke-width="1.8" stroke-linejoin="round"/>
<rect x="540.77" y="536.10" width="46.71" height="46.61" fill="none" stroke="#C4C4C4" stroke-width="1.8" stroke-linejoin="round"/>
<rect x="587.48" y="536.10" width="46.71" height="46.61" fill="none" stroke="#C4C4C4" stroke-width="1.8" stroke-linejoin="round"/>
<rect x="120.40" y="582.71" width="46.71" height="46.61" fill="none" stroke="#C4C4C4" stroke-width="1.8" stroke-linejoin="round"/>
<rect x="167.11" y="582.71" width="46.71" height="46.61" fill="none" stroke="#C4C4C4" stroke-width="1.8" stroke-linejoin="round"/>
<rect x="213.82" y="582.71" width="46.71" height="46.61" fill="none" stroke="#C4C4C4" stroke-width="1.8" stroke-linejoin="round"/>
<rect x="260.52" y="582.71" width="46.71" height="46.61" fill="none" stroke="#C4C4C4" stroke-width="1.8" stroke-linejoin="round"/>
<rect x="307.23" y="582.71" width="46.71" height="46.61" fill="none" stroke="#C4C4C4" stroke-width="1.8" stroke-linejoin="round"/>
<rect x="353.94" y="582.71" width="46.71" height="46.61" fill="none" stroke="#C4C4C4" stroke-width="1.8" stroke-linejoin="round"/>
<rect x="400.65" y="582.71" width="46.71" height="46.61" fill="none" stroke="#C4C4C4" stroke-width="1.8" stroke-linejoin="round"/>
<rect x="447.36" y="582.71" width="46.71" height="46.61" fill="none" stroke="#C4C4C4" stroke-width="1.8" stroke-linejoin="round"/>
<rect x="494.07" y="582.71" width="46.71" height="46.61" fill="none" stroke="#C4C4C4" stroke-width="1.8" stroke-linejoin="round"/>
<rect x="540.77" y="582.71" width="46.71" height="46.61" fill="none" stroke="#C4C4C4" stroke-width="1.8" stroke-linejoin="round"/>
<rect x="587.48" y="582.71" width="46.71" height="46.61" fill="none" stroke="#C4C4C4" stroke-width="1.8" stroke-linejoin="round"/>
<rect x="634.19" y="582.71" width="46.71" height="46.61" fill="none" stroke="#C4C4C4" stroke-width="1.8" stroke-linejoin="round"/>
<g font-family="Liberation Sans" font-size="27.25" fill="#FF0000">
<g transform="translate(107.5,98.80) scale(1,1.0)"><text x="0" y="0" text-anchor="end">DI</text></g>
<g transform="translate(107.5,145.50) scale(1,1.0)"><text x="0" y="0" text-anchor="end">Wt. loss</text></g>
<g transform="translate(107.5,192.20) scale(1,1.0)"><text x="0" y="0" text-anchor="end">POD</text></g>
<g transform="translate(107.5,238.90) scale(1,1.0)"><text x="0" y="0" text-anchor="end">BI</text></g>
<g transform="translate(107.5,285.60) scale(1,1.0)"><text x="0" y="0" text-anchor="end">PPO</text></g>
<g transform="translate(107.5,332.30) scale(1,1.0)"><text x="-11.40" y="0" text-anchor="end">a</text><path d="M-5.96,-14.99 l0.00,-4.31 M-5.96,-14.99 l-4.09,-1.33 M-5.96,-14.99 l-2.53,3.48 M-5.96,-14.99 l2.53,3.48 M-5.96,-14.99 l4.09,-1.33" stroke="#FF0000" stroke-width="2.04" fill="none"/></g>
<g transform="translate(107.5,379.00) scale(1,1.0)"><text x="0" y="0" text-anchor="end">TFC</text></g>
<g transform="translate(107.5,425.70) scale(1,1.0)"><text x="0" y="0" text-anchor="end">TPC</text></g>
<g transform="translate(107.5,472.40) scale(1,1.0)"><text x="0" y="0" text-anchor="end">h</text></g>
<g transform="translate(107.5,519.10) scale(1,1.0)"><text x="-11.40" y="0" text-anchor="end">C</text><path d="M-5.96,-14.99 l0.00,-4.31 M-5.96,-14.99 l-4.09,-1.33 M-5.96,-14.99 l-2.53,3.48 M-5.96,-14.99 l2.53,3.48 M-5.96,-14.99 l4.09,-1.33" stroke="#FF0000" stroke-width="2.04" fill="none"/></g>
<g transform="translate(107.5,565.80) scale(1,1.0)"><text x="-11.40" y="0" text-anchor="end">b</text><path d="M-5.96,-14.99 l0.00,-4.31 M-5.96,-14.99 l-4.09,-1.33 M-5.96,-14.99 l-2.53,3.48 M-5.96,-14.99 l2.53,3.48 M-5.96,-14.99 l4.09,-1.33" stroke="#FF0000" stroke-width="2.04" fill="none"/></g>
<g transform="translate(107.5,612.50) scale(1,1.0)"><text x="-11.40" y="0" text-anchor="end">L</text><path d="M-5.96,-14.99 l0.00,-4.31 M-5.96,-14.99 l-4.09,-1.33 M-5.96,-14.99 l-2.53,3.48 M-5.96,-14.99 l2.53,3.48 M-5.96,-14.99 l4.09,-1.33" stroke="#FF0000" stroke-width="2.04" fill="none"/></g>
<g transform="translate(153.45,61.40) rotate(-90) scale(1,1.0)"><text x="0" y="0">DI</text></g>
<g transform="translate(200.16,108.01) rotate(-90) scale(1,1.0)"><text x="0" y="0">Wt. loss</text></g>
<g transform="translate(246.87,154.62) rotate(-90) scale(1,1.0)"><text x="0" y="0">POD</text></g>
<g transform="translate(293.58,201.23) rotate(-90) scale(1,1.0)"><text x="0" y="0">BI</text></g>
<g transform="translate(340.29,247.84) rotate(-90) scale(1,1.0)"><text x="0" y="0">PPO</text></g>
<g transform="translate(387.00,294.45) rotate(-90) scale(1,1.0)"><text x="0" y="0">a</text><path d="M20.19,-14.99 l0.00,-4.31 M20.19,-14.99 l-4.09,-1.33 M20.19,-14.99 l-2.53,3.48 M20.19,-14.99 l2.53,3.48 M20.19,-14.99 l4.09,-1.33" stroke="#FF0000" stroke-width="2.04" fill="none"/></g>
<g transform="translate(433.70,341.06) rotate(-90) scale(1,1.0)"><text x="0" y="0">TFC</text></g>
<g transform="translate(480.41,387.67) rotate(-90) scale(1,1.0)"><text x="0" y="0">TPC</text></g>
<g transform="translate(527.12,434.28) rotate(-90) scale(1,1.0)"><text x="0" y="0">h</text></g>
<g transform="translate(573.83,480.89) rotate(-90) scale(1,1.0)"><text x="0" y="0">C</text><path d="M24.72,-14.99 l0.00,-4.31 M24.72,-14.99 l-4.09,-1.33 M24.72,-14.99 l-2.53,3.48 M24.72,-14.99 l2.53,3.48 M24.72,-14.99 l4.09,-1.33" stroke="#FF0000" stroke-width="2.04" fill="none"/></g>
<g transform="translate(620.54,527.50) rotate(-90) scale(1,1.0)"><text x="0" y="0">b</text><path d="M20.19,-14.99 l0.00,-4.31 M20.19,-14.99 l-4.09,-1.33 M20.19,-14.99 l-2.53,3.48 M20.19,-14.99 l2.53,3.48 M20.19,-14.99 l4.09,-1.33" stroke="#FF0000" stroke-width="2.04" fill="none"/></g>
<g transform="translate(667.25,574.11) rotate(-90) scale(1,1.0)"><text x="0" y="0">L</text><path d="M20.19,-14.99 l0.00,-4.31 M20.19,-14.99 l-4.09,-1.33 M20.19,-14.99 l-2.53,3.48 M20.19,-14.99 l2.53,3.48 M20.19,-14.99 l4.09,-1.33" stroke="#FF0000" stroke-width="2.04" fill="none"/></g>
</g>
<defs><linearGradient id="g" x1="0" x2="1" y1="0" y2="0"><stop offset="0.00" stop-color="#67001F"/><stop offset="0.10" stop-color="#B2182B"/><stop offset="0.20" stop-color="#D6604D"/><stop offset="0.30" stop-color="#F4A582"/><stop offset="0.40" stop-color="#FDDBC7"/><stop offset="0.50" stop-color="#FFFFFF"/><stop offset="0.60" stop-color="#D1E5F0"/><stop offset="0.70" stop-color="#92C5DE"/><stop offset="0.80" stop-color="#4393C3"/><stop offset="0.90" stop-color="#2166AC"/><stop offset="1.00" stop-color="#053061"/></linearGradient></defs>
<rect x="120.2" y="639.3" width="560.70" height="20.60" fill="url(#g)" stroke="#000" stroke-width="1.4"/>
<line x1="120.20" y1="659.9" x2="120.20" y2="664.5" stroke="#000" stroke-width="1.4"/>
<g transform="translate(120.20,693.5) scale(1,1.07)" fill="#000"><text x="-9.78" y="0.6" font-family="Liberation Sans" font-size="22.0">-</text><path d="M6.24,0.00 L4.31,0.00 L4.31,-12.32 Q3.61,-11.66 2.47,-10.99 Q1.33,-10.32 0.43,-9.99 L0.43,-11.86 Q2.05,-12.62 3.27,-13.71 Q4.48,-14.79 4.99,-15.81 L6.24,-15.81 Z"/></g>
<line x1="176.27" y1="659.9" x2="176.27" y2="664.5" stroke="#000" stroke-width="1.4"/>
<g transform="translate(176.27,693.5) scale(1,1.07)" fill="#000"><text x="0" y="0" text-anchor="middle" font-family="Liberation Sans" font-size="22.0"><tspan dy="0.6">-</tspan><tspan dy="-0.6">0.8</tspan></text></g>
<line x1="232.34" y1="659.9" x2="232.34" y2="664.5" stroke="#000" stroke-width="1.4"/>
<g transform="translate(232.34,693.5) scale(1,1.07)" fill="#000"><text x="0" y="0" text-anchor="middle" font-family="Liberation Sans" font-size="22.0"><tspan dy="0.6">-</tspan><tspan dy="-0.6">0.6</tspan></text></g>
<line x1="288.41" y1="659.9" x2="288.41" y2="664.5" stroke="#000" stroke-width="1.4"/>
<g transform="translate(288.41,693.5) scale(1,1.07)" fill="#000"><text x="0" y="0" text-anchor="middle" font-family="Liberation Sans" font-size="22.0"><tspan dy="0.6">-</tspan><tspan dy="-0.6">0.4</tspan></text></g>
<line x1="344.48" y1="659.9" x2="344.48" y2="664.5" stroke="#000" stroke-width="1.4"/>
<g transform="translate(344.48,693.5) scale(1,1.07)" fill="#000"><text x="0" y="0" text-anchor="middle" font-family="Liberation Sans" font-size="22.0"><tspan dy="0.6">-</tspan><tspan dy="-0.6">0.2</tspan></text></g>
<line x1="400.55" y1="659.9" x2="400.55" y2="664.5" stroke="#000" stroke-width="1.4"/>
<g transform="translate(400.55,693.5) scale(1,1.07)" fill="#000"><text x="0" y="0" text-anchor="middle" font-family="Liberation Sans" font-size="22.0">0</text></g>
<line x1="456.62" y1="659.9" x2="456.62" y2="664.5" stroke="#000" stroke-width="1.4"/>
<g transform="translate(456.62,693.5) scale(1,1.07)" fill="#000"><text x="0" y="0" text-anchor="middle" font-family="Liberation Sans" font-size="22.0">0.2</text></g>
<line x1="512.69" y1="659.9" x2="512.69" y2="664.5" stroke="#000" stroke-width="1.4"/>
<g transform="translate(512.69,693.5) scale(1,1.07)" fill="#000"><text x="0" y="0" text-anchor="middle" font-family="Liberation Sans" font-size="22.0">0.4</text></g>
<line x1="568.76" y1="659.9" x2="568.76" y2="664.5" stroke="#000" stroke-width="1.4"/>
<g transform="translate(568.76,693.5) scale(1,1.07)" fill="#000"><text x="0" y="0" text-anchor="middle" font-family="Liberation Sans" font-size="22.0">0.6</text></g>
<line x1="624.83" y1="659.9" x2="624.83" y2="664.5" stroke="#000" stroke-width="1.4"/>
<g transform="translate(624.83,693.5) scale(1,1.07)" fill="#000"><text x="0" y="0" text-anchor="middle" font-family="Liberation Sans" font-size="22.0">0.8</text></g>
<line x1="680.90" y1="659.9" x2="680.90" y2="664.5" stroke="#000" stroke-width="1.4"/>
<g transform="translate(680.90,693.5) scale(1,1.07)" fill="#000"><path d="M2.58,0.00 L0.65,0.00 L0.65,-12.32 Q-0.05,-11.66 -1.19,-10.99 Q-2.33,-10.32 -3.23,-9.99 L-3.23,-11.86 Q-1.61,-12.62 -0.40,-13.71 Q0.82,-14.79 1.32,-15.81 L2.58,-15.81 Z"/></g>
</svg>
</body></html>
